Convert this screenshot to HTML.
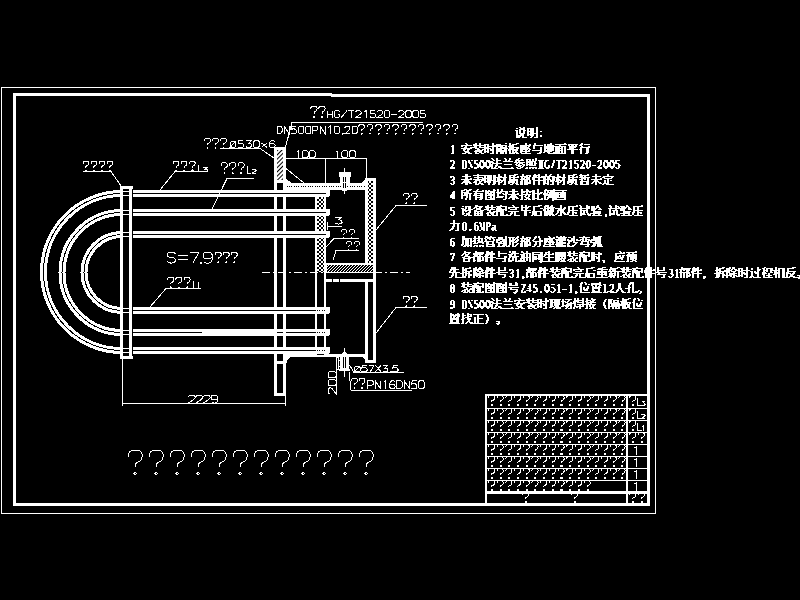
<!DOCTYPE html>
<html><head><meta charset="utf-8"><style>
html,body{margin:0;padding:0;background:#000;width:800px;height:600px;overflow:hidden}
svg{display:block}
.st path{fill:none;stroke:#fff;stroke-width:1px;vector-effect:non-scaling-stroke;shape-rendering:crispEdges}
text{font-family:"Liberation Sans",sans-serif;fill:#fff}
</style></head><body>
<svg width="800" height="600" viewBox="0 0 800 600" shape-rendering="crispEdges">
<rect width="800" height="600" fill="#000"/>
<defs>
<pattern id="hatch" width="3" height="3" patternUnits="userSpaceOnUse" patternTransform="rotate(45)">
<rect width="3" height="3" fill="#000"/><rect width="1.5" height="3" fill="#fff"/></pattern>
<pattern id="hatch2" width="4" height="4" patternUnits="userSpaceOnUse">
<rect width="4" height="4" fill="#000"/><rect x="0" y="0" width="1" height="1" fill="#fff"/><rect x="1" y="1" width="2" height="2" fill="#fff"/><rect x="3" y="0" width="1" height="1" fill="#fff"/><rect x="0" y="3" width="1" height="1" fill="#fff"/><rect x="3" y="3" width="1" height="1" fill="#fff"/></pattern>
<pattern id="hatchx" width="4" height="4" patternUnits="userSpaceOnUse">
<rect width="4" height="4" fill="#000"/><rect x="0" y="0" width="1" height="1" fill="#fff"/><rect x="1" y="1" width="1" height="1" fill="#fff"/><rect x="2" y="2" width="1" height="1" fill="#fff"/><rect x="3" y="3" width="1" height="1" fill="#fff"/><rect x="3" y="0" width="1" height="1" fill="#fff"/><rect x="0" y="3" width="1" height="1" fill="#fff"/><rect x="1" y="2" width="1" height="1" fill="#fff"/><rect x="2" y="1" width="1" height="1" fill="#fff"/></pattern>
<pattern id="hatch3" width="3" height="3" patternUnits="userSpaceOnUse">
<rect width="3" height="3" fill="#000"/><rect x="2" y="0" width="1" height="1" fill="#fff"/><rect x="1" y="1" width="1" height="1" fill="#fff"/><rect x="0" y="2" width="1" height="1" fill="#fff"/></pattern>
<path id="qm" d="M0.5,6.7 L0.5,4 L1.5,2.1 L2.5,1.3 L4.2,0.5 L10.9,0.5 L12.7,1.6 L14,4 L14,7.2 L13,9.9 L11.4,11.5 L8.7,12.5 L7.4,14.1 L7.4,16.5 M7.4,22.3 L8.6,23.5 L7.4,24.7 L6.2,23.5 Z" fill="none" stroke="#fff" stroke-width="1" vector-effect="non-scaling-stroke"/>
<g id="qt"><path d="M0.5,6.7 L0.5,4 L1.5,2.1 L2.5,1.3 L4.2,0.5 L10.9,0.5 L12.7,1.6 L14,4 L14,7.2 L13,9.9 L11.4,11.5 L8.7,12.5 L7.4,14.1 L7.4,16.5" fill="none" stroke="#fff" stroke-width="1" vector-effect="non-scaling-stroke"/><rect x="6" y="21.5" width="4.5" height="4.8" fill="#fff"/></g>
</defs>
<rect x="1.5" y="87.5" width="654" height="426" fill="none" stroke="#fff" stroke-width="1"/>
<rect x="13" y="93" width="3" height="413" fill="#ffffff"/>
<rect x="13" y="93" width="319" height="3" fill="#ffffff"/>
<rect x="331" y="94" width="319" height="3" fill="#ffffff"/>
<rect x="647" y="94" width="3" height="412" fill="#ffffff"/>
<rect x="13" y="503" width="637" height="3" fill="#ffffff"/>
<path d="M329,191.5 H122 A80.5,80.5 0 0 0 122,352.5 H329" stroke="#ffffff" stroke-width="3" fill="none" />
<path d="M329,195.5 H122 A76.5,76.5 0 0 0 122,348.5 H329" stroke="#ffffff" stroke-width="3" fill="none" />
<path d="M329,210.5 H122 A62.0,62.0 0 0 0 122,334.5 H329" stroke="#ffffff" stroke-width="3" fill="none" />
<path d="M329,214.5 H122 A58.0,58.0 0 0 0 122,330.5 H329" stroke="#ffffff" stroke-width="3" fill="none" />
<path d="M329,232.5 H122 A40.0,40.0 0 0 0 122,312.5 H329" stroke="#ffffff" stroke-width="3" fill="none" />
<path d="M329,236.5 H122 A36.0,36.0 0 0 0 122,308.5 H329" stroke="#ffffff" stroke-width="3" fill="none" />
<rect x="202" y="329" width="72" height="7" fill="#ffffff"/>
<rect x="120" y="186" width="13" height="173" fill="#000"/>
<rect x="120" y="186" width="3" height="173" fill="#ffffff"/>
<rect x="129" y="186" width="3" height="173" fill="#ffffff"/>
<rect x="120" y="186" width="13" height="3" fill="#ffffff"/>
<rect x="120" y="356" width="13" height="3" fill="#ffffff"/>
<rect x="123" y="191.0" width="6" height="1" fill="#ffffff"/>
<rect x="123" y="195.0" width="6" height="1" fill="#ffffff"/>
<rect x="123" y="348.0" width="6" height="1" fill="#ffffff"/>
<rect x="123" y="352.0" width="6" height="1" fill="#ffffff"/>
<rect x="123" y="210.0" width="6" height="1" fill="#ffffff"/>
<rect x="123" y="214.0" width="6" height="1" fill="#ffffff"/>
<rect x="123" y="330.0" width="6" height="1" fill="#ffffff"/>
<rect x="123" y="334.0" width="6" height="1" fill="#ffffff"/>
<rect x="123" y="232.0" width="6" height="1" fill="#ffffff"/>
<rect x="123" y="236.0" width="6" height="1" fill="#ffffff"/>
<rect x="123" y="308.0" width="6" height="1" fill="#ffffff"/>
<rect x="123" y="312.0" width="6" height="1" fill="#ffffff"/>
<rect x="274" y="147" width="12" height="249" fill="#000"/>
<rect x="274" y="147" width="3" height="249" fill="#ffffff"/>
<rect x="283" y="147" width="3" height="249" fill="#ffffff"/>
<rect x="274" y="147" width="12" height="3" fill="#ffffff"/>
<rect x="274" y="393" width="12" height="3" fill="#ffffff"/>
<rect x="277" y="150" width="6" height="30" fill="url(#hatch)"/>
<rect x="274" y="180" width="12" height="3" fill="#ffffff"/>
<rect x="277" y="190.0" width="6" height="7" fill="#ffffff"/>
<rect x="277" y="193.0" width="6" height="1" fill="#000"/>
<rect x="277" y="347.0" width="6" height="7" fill="#ffffff"/>
<rect x="277" y="350.0" width="6" height="1" fill="#000"/>
<rect x="277" y="209.0" width="6" height="7" fill="#ffffff"/>
<rect x="277" y="212.0" width="6" height="1" fill="#000"/>
<rect x="277" y="329.0" width="6" height="7" fill="#ffffff"/>
<rect x="277" y="332.0" width="6" height="1" fill="#000"/>
<rect x="277" y="231.0" width="6" height="7" fill="#ffffff"/>
<rect x="277" y="234.0" width="6" height="1" fill="#000"/>
<rect x="277" y="307.0" width="6" height="7" fill="#ffffff"/>
<rect x="277" y="310.0" width="6" height="1" fill="#000"/>
<rect x="274" y="361" width="12" height="3" fill="#ffffff"/>
<rect x="286" y="183" width="80" height="7" fill="#ffffff"/>
<line x1="287" y1="186.5" x2="365" y2="186.5" stroke="#000" stroke-width="1" stroke-dasharray="1,1,1,1,1,2"/>
<path d="M286,179 L292,183 L286,183 Z" stroke="#ffffff" stroke-width="0" fill="#ffffff" />
<rect x="286" y="354" width="80" height="3" fill="#ffffff"/>
<path d="M286,356 L292,356 Q287.5,358 286,364 Z" stroke="#ffffff" stroke-width="0" fill="#ffffff" />
<rect x="315" y="190" width="11" height="165" fill="#000"/>
<rect x="315" y="190" width="2" height="165" fill="#ffffff"/>
<rect x="324" y="190" width="2" height="165" fill="#ffffff"/>
<rect x="317" y="190" width="7" height="82" fill="url(#hatchx)"/>
<rect x="286" y="190.0" width="43" height="7" fill="#ffffff"/>
<rect x="286" y="193.0" width="29" height="1" fill="#000"/>
<rect x="326" y="190.0" width="4" height="7" rx="2" fill="#fff"/>
<rect x="286" y="347.0" width="43" height="7" fill="#ffffff"/>
<rect x="286" y="350.0" width="29" height="1" fill="#000"/>
<rect x="326" y="347.0" width="4" height="7" rx="2" fill="#fff"/>
<rect x="286" y="209.0" width="43" height="7" fill="#ffffff"/>
<rect x="286" y="212.0" width="29" height="1" fill="#000"/>
<rect x="326" y="209.0" width="4" height="7" rx="2" fill="#fff"/>
<rect x="286" y="329.0" width="43" height="7" fill="#ffffff"/>
<rect x="286" y="332.0" width="29" height="1" fill="#000"/>
<rect x="326" y="329.0" width="4" height="7" rx="2" fill="#fff"/>
<rect x="286" y="231.0" width="43" height="7" fill="#ffffff"/>
<rect x="286" y="234.0" width="29" height="1" fill="#000"/>
<rect x="326" y="231.0" width="4" height="7" rx="2" fill="#fff"/>
<rect x="286" y="307.0" width="43" height="7" fill="#ffffff"/>
<rect x="286" y="310.0" width="29" height="1" fill="#000"/>
<rect x="326" y="307.0" width="4" height="7" rx="2" fill="#fff"/>
<rect x="315" y="190" width="2" height="165" fill="#ffffff"/>
<rect x="324" y="190" width="2" height="165" fill="#ffffff"/>
<rect x="133" y="193" width="193" height="1" fill="#000"/>
<rect x="133" y="212" width="193" height="1" fill="#000"/>
<rect x="133" y="234" width="193" height="1" fill="#000"/>
<rect x="133" y="310" width="153" height="1" fill="#000"/>
<line x1="287" y1="310.5" x2="326" y2="310.5" stroke="#000" stroke-width="1" stroke-dasharray="1,1,1,1,1,2"/>
<rect x="133" y="350" width="153" height="1" fill="#000"/>
<line x1="287" y1="350.5" x2="326" y2="350.5" stroke="#000" stroke-width="1" stroke-dasharray="1,1,1,1,1,2"/>
<rect x="133" y="332" width="69" height="1" fill="#000"/>
<line x1="287" y1="332.5" x2="326" y2="332.5" stroke="#000" stroke-width="1" stroke-dasharray="1,1,1,1,1,2"/>
<rect x="365" y="178" width="11" height="95" fill="#ffffff"/>
<rect x="368" y="181" width="5" height="82" fill="url(#hatch2)"/>
<path d="M362,183 L366,178 L366,183 Z" stroke="#ffffff" stroke-width="0" fill="#ffffff" />
<rect x="326" y="263" width="50" height="10" fill="#ffffff"/>
<rect x="327" y="265" width="46" height="7" fill="url(#hatch3)"/>
<rect x="326" y="279" width="50" height="3" fill="#ffffff"/>
<rect x="332" y="279" width="1" height="3" fill="#000"/>
<rect x="339" y="279" width="1" height="3" fill="#000"/>
<rect x="365" y="281" width="3" height="82" fill="#ffffff"/>
<rect x="373" y="273" width="3" height="90" fill="#ffffff"/>
<rect x="365" y="360" width="11" height="3" fill="#ffffff"/>
<path d="M362,357 L366,361 L366,357 Z" stroke="#ffffff" stroke-width="0" fill="#ffffff" />
<rect x="339" y="172" width="12" height="5" rx="1.5" fill="#fff"/>
<rect x="340" y="176" width="10" height="8" fill="#ffffff"/>
<rect x="343" y="177" width="1" height="11" fill="#000"/>
<rect x="345" y="177" width="1" height="11" fill="#000"/>
<rect x="344" y="168" width="1" height="26" fill="#ffffff"/>
<rect x="343" y="182" width="3" height="1" fill="#ffffff"/>
<rect x="342" y="189" width="5" height="2" fill="#ffffff"/>
<path d="M340.5,355 L344.5,350.5 L348.5,355 Z" stroke="#ffffff" stroke-width="0" fill="#ffffff" />
<rect x="340" y="356" width="9" height="15" fill="#ffffff"/>
<rect x="339" y="369" width="11" height="2" fill="#ffffff"/>
<rect x="343" y="357" width="1" height="11" fill="#000"/>
<rect x="345" y="357" width="1" height="11" fill="#000"/>
<rect x="344" y="348" width="1" height="29" fill="#ffffff"/>
<line x1="286" y1="168.5" x2="304" y2="183" stroke="#ffffff" stroke-width="1"/>
<line x1="262" y1="272.5" x2="410" y2="272.5" stroke="#fff" stroke-width="1" stroke-dasharray="8,3,2,3"/>
<line x1="286" y1="158.5" x2="367" y2="158.5" stroke="#ffffff" stroke-width="1"/>
<line x1="325.5" y1="158" x2="325.5" y2="183" stroke="#ffffff" stroke-width="1"/>
<line x1="366.5" y1="158" x2="366.5" y2="178" stroke="#ffffff" stroke-width="1"/>
<line x1="122" y1="403.5" x2="285" y2="403.5" stroke="#ffffff" stroke-width="1"/>
<line x1="122.5" y1="358" x2="122.5" y2="406" stroke="#ffffff" stroke-width="1"/>
<line x1="285.5" y1="396" x2="285.5" y2="406" stroke="#ffffff" stroke-width="1"/>
<line x1="336.5" y1="357" x2="336.5" y2="395" stroke="#ffffff" stroke-width="1"/>
<rect x="336" y="357" width="3" height="1" fill="#ffffff"/>
<rect x="338" y="357" width="1" height="13" fill="#ffffff"/>
<rect x="336" y="369" width="4" height="1" fill="#ffffff"/>
<rect x="339" y="360" width="1" height="1" fill="#ffffff"/>
<rect x="339" y="366" width="1" height="1" fill="#ffffff"/>
<use href="#qm" transform="translate(310.6,106) scale(0.46)"/>
<use href="#qm" transform="translate(318.6,106) scale(0.46)"/>
<g class="st"><path d="M327.00,110.60 L327.00,117.50 M332.60,110.60 L332.60,117.50 M327.00,114.05 L332.60,114.05 M339.75,111.98 L339.01,111.06 L337.70,110.60 L336.21,110.60 L334.90,111.14 L334.15,112.44 L334.15,115.66 L334.90,116.96 L336.21,117.50 L337.70,117.50 L339.01,116.96 L339.75,115.81 L339.75,114.59 L337.51,114.59 M346.91,110.60 L341.31,117.50 M348.46,110.60 L354.06,110.60 M351.26,110.60 L351.26,117.50 M355.62,112.13 L356.36,111.06 L357.67,110.60 L359.16,110.60 L360.47,111.06 L361.22,112.13 L361.22,113.05 L360.47,114.13 L355.62,117.50 L361.22,117.50 M364.17,111.98 L366.04,110.60 L366.04,117.50 M375.15,110.60 L370.67,110.60 L370.20,113.67 L371.42,113.21 L373.47,113.21 L374.96,113.82 L375.52,115.05 L375.52,116.12 L374.78,117.19 L373.47,117.50 L371.79,117.50 L370.48,117.19 L369.92,116.58 M377.08,112.13 L377.82,111.06 L379.13,110.60 L380.62,110.60 L381.93,111.06 L382.68,112.13 L382.68,113.05 L381.93,114.13 L377.08,117.50 L382.68,117.50 M385.35,110.60 L388.71,110.60 L389.83,111.75 L389.83,116.35 L388.71,117.50 L385.35,117.50 L384.23,116.35 L384.23,111.75 Z M391.01,114.43 L397.36,114.43 M398.54,112.13 L399.29,111.06 L400.59,110.60 L402.09,110.60 L403.39,111.06 L404.14,112.13 L404.14,113.05 L403.39,114.13 L398.54,117.50 L404.14,117.50 M406.81,110.60 L410.17,110.60 L411.29,111.75 L411.29,116.35 L410.17,117.50 L406.81,117.50 L405.69,116.35 L405.69,111.75 Z M413.97,110.60 L417.33,110.60 L418.45,111.75 L418.45,116.35 L417.33,117.50 L413.97,117.50 L412.85,116.35 L412.85,111.75 Z M425.23,110.60 L420.75,110.60 L420.28,113.67 L421.49,113.21 L423.55,113.21 L425.04,113.82 L425.60,115.05 L425.60,116.12 L424.85,117.19 L423.55,117.50 L421.87,117.50 L420.56,117.19 L420.00,116.58" fill="none" stroke="#fff" stroke-width="1"/></g>
<line x1="292" y1="122.5" x2="422.5" y2="122.5" stroke="#ffffff" stroke-width="1"/>
<line x1="292" y1="122.5" x2="285.5" y2="147" stroke="#ffffff" stroke-width="1"/>
<g class="st"><path d="M277.00,126.00 L277.00,133.80 L280.00,133.80 L281.50,132.85 L282.00,131.55 L282.00,128.25 L281.50,126.95 L280.00,126.00 Z M284.18,133.80 L284.18,126.00 L289.18,133.80 L289.18,126.00 M296.02,126.00 L292.02,126.00 L291.60,129.47 L292.69,128.95 L294.52,128.95 L295.85,129.64 L296.35,131.03 L296.35,132.24 L295.69,133.45 L294.52,133.80 L293.02,133.80 L291.85,133.45 L291.35,132.76 M299.53,126.00 L302.53,126.00 L303.53,127.30 L303.53,132.50 L302.53,133.80 L299.53,133.80 L298.53,132.50 L298.53,127.30 Z M306.71,126.00 L309.71,126.00 L310.71,127.30 L310.71,132.50 L309.71,133.80 L306.71,133.80 L305.71,132.50 L305.71,127.30 Z M312.89,133.80 L312.89,126.00 L316.55,126.00 L317.55,126.61 L317.89,127.56 L317.89,128.95 L317.55,129.81 L316.55,130.33 L312.89,130.33 M320.06,133.80 L320.06,126.00 L325.06,133.80 L325.06,126.00 M328.49,127.56 L330.16,126.00 L330.16,133.80 M335.42,126.00 L338.42,126.00 L339.42,127.30 L339.42,132.50 L338.42,133.80 L335.42,133.80 L334.42,132.50 L334.42,127.30 Z M342.59,133.19 L343.09,133.63 L342.59,135.10 M344.82,127.73 L345.49,126.52 L346.66,126.00 L347.99,126.00 L349.16,126.52 L349.82,127.73 L349.82,128.77 L349.16,129.99 L344.82,133.80 L349.82,133.80 M353.00,126.00 L356.00,126.00 L357.00,127.30 L357.00,132.50 L356.00,133.80 L353.00,133.80 L352.00,132.50 L352.00,127.30 Z" fill="none" stroke="#fff" stroke-width="1"/></g>
<use href="#qm" transform="translate(358.6,124.3) scale(0.4)"/>
<use href="#qm" transform="translate(367.1,124.3) scale(0.4)"/>
<use href="#qm" transform="translate(375.6,124.3) scale(0.4)"/>
<use href="#qm" transform="translate(384.1,124.3) scale(0.4)"/>
<use href="#qm" transform="translate(392.6,124.3) scale(0.4)"/>
<use href="#qm" transform="translate(401.1,124.3) scale(0.4)"/>
<use href="#qm" transform="translate(409.6,124.3) scale(0.4)"/>
<use href="#qm" transform="translate(418.1,124.3) scale(0.4)"/>
<use href="#qm" transform="translate(426.6,124.3) scale(0.4)"/>
<use href="#qm" transform="translate(435.1,124.3) scale(0.4)"/>
<use href="#qm" transform="translate(443.6,124.3) scale(0.4)"/>
<use href="#qm" transform="translate(452.1,124.3) scale(0.4)"/>
<use href="#qm" transform="translate(204.4,138) scale(0.43)"/>
<use href="#qm" transform="translate(212.4,138) scale(0.43)"/>
<use href="#qm" transform="translate(220.4,138) scale(0.43)"/>
<g class="st"><path d="M231.12,141.75 L234.48,141.75 L235.60,142.90 L235.60,146.35 L234.48,147.50 L231.12,147.50 L230.00,146.35 L230.00,142.90 Z M229.72,147.88 L235.88,140.98 M243.11,140.60 L238.63,140.60 L238.16,143.67 L239.37,143.21 L241.43,143.21 L242.92,143.82 L243.48,145.05 L243.48,146.12 L242.73,147.19 L241.43,147.50 L239.75,147.50 L238.44,147.19 L237.88,146.58 M246.04,140.60 L251.36,140.60 L248.37,143.51 L249.68,143.51 L250.89,144.05 L251.36,145.20 L251.36,146.20 L250.61,147.19 L249.31,147.50 L247.81,147.50 L246.51,147.19 L245.76,146.43 M254.76,140.60 L258.12,140.60 L259.24,141.75 L259.24,146.35 L258.12,147.50 L254.76,147.50 L253.64,146.35 L253.64,141.75 Z M261.52,142.90 L267.12,147.50 M267.12,142.90 L261.52,147.50 M274.63,141.37 L273.69,140.60 L271.64,140.60 L270.15,141.52 L269.40,143.28 L269.40,145.81 L270.15,147.04 L271.45,147.50 L272.95,147.50 L274.25,147.04 L275.00,145.97 L275.00,145.05 L274.25,143.97 L272.95,143.51 L271.45,143.51 L270.15,143.97 L269.40,145.05" fill="none" stroke="#fff" stroke-width="1"/></g>
<line x1="220" y1="148.5" x2="260" y2="148.5" stroke="#ffffff" stroke-width="1"/>
<line x1="260" y1="148.5" x2="274" y2="158" stroke="#ffffff" stroke-width="1"/>
<g class="st"><path d="M296.50,152.22 L298.50,150.90 L298.50,157.50 M303.20,150.90 L306.80,150.90 L308.00,152.00 L308.00,156.40 L306.80,157.50 L303.20,157.50 L302.00,156.40 L302.00,152.00 Z M310.20,150.90 L313.80,150.90 L315.00,152.00 L315.00,156.40 L313.80,157.50 L310.20,157.50 L309.00,156.40 L309.00,152.00 Z" fill="none" stroke="#fff" stroke-width="1"/></g>
<g class="st"><path d="M335.90,152.22 L337.90,150.90 L337.90,157.50 M343.10,150.90 L346.70,150.90 L347.90,152.00 L347.90,156.40 L346.70,157.50 L343.10,157.50 L341.90,156.40 L341.90,152.00 Z M350.60,150.90 L354.20,150.90 L355.40,152.00 L355.40,156.40 L354.20,157.50 L350.60,157.50 L349.40,156.40 L349.40,152.00 Z" fill="none" stroke="#fff" stroke-width="1"/></g>
<use href="#qm" transform="translate(83,161) scale(0.4)"/>
<use href="#qm" transform="translate(91,161) scale(0.4)"/>
<use href="#qm" transform="translate(99,161) scale(0.4)"/>
<use href="#qm" transform="translate(107,161) scale(0.4)"/>
<line x1="83" y1="171.5" x2="111" y2="171.5" stroke="#ffffff" stroke-width="1"/>
<line x1="111" y1="171.5" x2="121" y2="186" stroke="#ffffff" stroke-width="1"/>
<use href="#qm" transform="translate(173.0,161) scale(0.41)"/>
<use href="#qm" transform="translate(181.2,161) scale(0.41)"/>
<use href="#qm" transform="translate(189.4,161) scale(0.41)"/>
<g class="st"><path d="M198.00,165.00 L198.00,171.50 L202.12,171.50" fill="none" stroke="#fff" stroke-width="1"/></g>
<g class="st"><path d="M203.22,167.50 L207.50,167.50 L205.10,169.19 L206.15,169.19 L207.12,169.50 L207.50,170.17 L207.50,170.74 L206.90,171.32 L205.85,171.50 L204.65,171.50 L203.60,171.32 L203.00,170.88" fill="none" stroke="#fff" stroke-width="1"/></g>
<line x1="175" y1="171.5" x2="208" y2="171.5" stroke="#ffffff" stroke-width="1"/>
<line x1="175" y1="171.5" x2="160" y2="190" stroke="#ffffff" stroke-width="1"/>
<use href="#qm" transform="translate(221.0,162.5) scale(0.45)"/>
<use href="#qm" transform="translate(229.4,162.5) scale(0.45)"/>
<use href="#qm" transform="translate(237.8,162.5) scale(0.45)"/>
<g class="st"><path d="M247.50,165.60 L247.50,173.00 L250.71,173.00" fill="none" stroke="#fff" stroke-width="1"/></g>
<g class="st"><path d="M252.00,170.20 L252.53,169.64 L253.47,169.40 L254.53,169.40 L255.47,169.64 L256.00,170.20 L256.00,170.68 L255.47,171.24 L252.00,173.00 L256.00,173.00" fill="none" stroke="#fff" stroke-width="1"/></g>
<line x1="227" y1="178.5" x2="254" y2="178.5" stroke="#ffffff" stroke-width="1"/>
<line x1="227" y1="178.5" x2="212" y2="209" stroke="#ffffff" stroke-width="1"/>
<g class="st"><path d="M175.50,253.96 L174.08,252.49 L172.10,252.00 L170.40,252.00 L168.42,252.49 L167.00,253.96 L167.00,255.67 L168.42,256.89 L174.08,258.11 L175.50,259.33 L175.50,261.04 L174.08,262.51 L172.10,263.00 L170.40,263.00 L168.42,262.51 L167.00,261.04" fill="none" stroke="#fff" stroke-width="1"/></g>
<g class="st"><path d="M178.00,255.91 L188.00,255.91 M178.00,259.33 L188.00,259.33" fill="none" stroke="#fff" stroke-width="1"/></g>
<g class="st"><path d="M190.00,252.00 L199.00,252.00 L193.00,263.00" fill="none" stroke="#fff" stroke-width="1"/></g>
<g class="st"><path d="M200.83,262.27 L201.10,262.27 L201.10,263.00 L200.83,263.00 Z" fill="none" stroke="#fff" stroke-width="1"/></g>
<g class="st"><path d="M212.00,256.89 L210.80,258.36 L208.70,258.84 L206.30,258.84 L204.20,258.11 L203.00,256.64 L203.00,254.44 L204.20,252.73 L206.30,252.00 L208.70,252.00 L210.80,252.73 L212.00,254.44 L212.00,259.94 L210.80,262.14 L208.70,263.00 L206.30,263.00 L203.90,262.14" fill="none" stroke="#fff" stroke-width="1"/></g>
<use href="#qm" transform="translate(215,252) scale(0.44)"/>
<use href="#qm" transform="translate(223,252) scale(0.44)"/>
<use href="#qm" transform="translate(231,252) scale(0.44)"/>
<use href="#qm" transform="translate(167.5,277) scale(0.44)"/>
<use href="#qm" transform="translate(175.7,277) scale(0.44)"/>
<use href="#qm" transform="translate(183.9,277) scale(0.44)"/>
<g class="st"><path d="M193.00,281.00 L193.00,288.00 L197.58,288.00" fill="none" stroke="#fff" stroke-width="1"/></g>
<g class="st"><path d="M197.75,283.20 L198.75,282.00 L198.75,288.00" fill="none" stroke="#fff" stroke-width="1"/></g>
<line x1="166" y1="288.5" x2="201" y2="288.5" stroke="#ffffff" stroke-width="1"/>
<line x1="166" y1="288.5" x2="150" y2="307" stroke="#ffffff" stroke-width="1"/>
<g class="st"><path d="M335.35,217.00 L342.00,217.00 L338.27,219.96 L339.90,219.96 L341.42,220.50 L342.00,221.67 L342.00,222.68 L341.07,223.69 L339.43,224.00 L337.57,224.00 L335.93,223.69 L335.00,222.91" fill="none" stroke="#fff" stroke-width="1"/></g>
<line x1="327" y1="226.5" x2="342" y2="226.5" stroke="#ffffff" stroke-width="1"/>
<rect x="327" y="222" width="1" height="8" fill="#ffffff"/>
<use href="#qm" transform="translate(341,229) scale(0.38)"/>
<use href="#qm" transform="translate(349,229) scale(0.38)"/>
<line x1="334" y1="238.5" x2="359" y2="238.5" stroke="#ffffff" stroke-width="1"/>
<line x1="326" y1="247" x2="334" y2="238.5" stroke="#ffffff" stroke-width="1"/>
<use href="#qm" transform="translate(346,241) scale(0.38)"/>
<use href="#qm" transform="translate(354,241) scale(0.38)"/>
<line x1="336" y1="250.5" x2="359" y2="250.5" stroke="#ffffff" stroke-width="1"/>
<line x1="333" y1="260" x2="336" y2="250.5" stroke="#ffffff" stroke-width="1"/>
<use href="#qm" transform="translate(403,193.3) scale(0.43)"/>
<use href="#qm" transform="translate(411,193.3) scale(0.43)"/>
<line x1="396" y1="205.5" x2="427" y2="205.5" stroke="#ffffff" stroke-width="1"/>
<line x1="396" y1="205.5" x2="376" y2="230" stroke="#ffffff" stroke-width="1"/>
<use href="#qm" transform="translate(403,296) scale(0.44)"/>
<use href="#qm" transform="translate(411,296) scale(0.44)"/>
<line x1="396" y1="307.5" x2="427" y2="307.5" stroke="#ffffff" stroke-width="1"/>
<line x1="396" y1="307.5" x2="376" y2="333" stroke="#ffffff" stroke-width="1"/>
<g class="st"><path d="M355.70,366.37 L359.00,366.37 L360.10,367.43 L360.10,370.63 L359.00,371.70 L355.70,371.70 L354.60,370.63 L354.60,367.43 Z M354.33,372.06 L360.38,365.66 M366.69,365.30 L362.29,365.30 L361.83,368.14 L363.02,367.72 L365.04,367.72 L366.50,368.29 L367.05,369.42 L367.05,370.42 L366.32,371.42 L365.04,371.70 L363.39,371.70 L362.10,371.42 L361.55,370.85 M368.51,365.30 L374.01,365.30 L370.34,371.70 M375.46,365.30 L380.96,371.70 M380.96,365.30 L375.46,371.70 M382.69,365.30 L387.92,365.30 L384.98,368.00 L386.27,368.00 L387.46,368.50 L387.92,369.57 L387.92,370.49 L387.18,371.42 L385.90,371.70 L384.43,371.70 L383.15,371.42 L382.42,370.70 M390.29,371.27 L391.02,371.27 L391.02,371.70 L390.29,371.70 Z M397.63,365.30 L393.23,365.30 L392.77,368.14 L393.97,367.72 L395.98,367.72 L397.45,368.29 L398.00,369.42 L398.00,370.42 L397.27,371.42 L395.98,371.70 L394.33,371.70 L393.05,371.42 L392.50,370.85" fill="none" stroke="#fff" stroke-width="1"/></g>
<line x1="354" y1="372.5" x2="404" y2="372.5" stroke="#ffffff" stroke-width="1"/>
<line x1="349.8" y1="365.3" x2="354" y2="372.5" stroke="#ffffff" stroke-width="1"/>
<use href="#qm" transform="translate(351.4,378) scale(0.43)"/>
<use href="#qm" transform="translate(358.9,378) scale(0.43)"/>
<g class="st"><path d="M367.80,388.70 L367.80,380.70 L371.83,380.70 L372.93,381.32 L373.30,382.30 L373.30,383.72 L372.93,384.61 L371.83,385.14 L367.80,385.14 M375.07,388.70 L375.07,380.70 L380.57,388.70 L380.57,380.70 M383.72,382.30 L385.55,380.70 L385.55,388.70 M394.75,381.59 L393.83,380.70 L391.81,380.70 L390.35,381.77 L389.61,383.81 L389.61,386.74 L390.35,388.17 L391.63,388.70 L393.10,388.70 L394.38,388.17 L395.11,386.92 L395.11,385.86 L394.38,384.61 L393.10,384.08 L391.63,384.08 L390.35,384.61 L389.61,385.86 M396.89,380.70 L396.89,388.70 L400.19,388.70 L401.84,387.72 L402.39,386.39 L402.39,383.01 L401.84,381.68 L400.19,380.70 Z M404.16,388.70 L404.16,380.70 L409.66,388.70 L409.66,380.70 M416.56,380.70 L412.16,380.70 L411.70,384.26 L412.90,383.72 L414.91,383.72 L416.38,384.43 L416.93,385.86 L416.93,387.10 L416.20,388.34 L414.91,388.70 L413.26,388.70 L411.98,388.34 L411.43,387.63 M419.80,380.70 L423.10,380.70 L424.20,382.03 L424.20,387.37 L423.10,388.70 L419.80,388.70 L418.70,387.37 L418.70,382.03 Z" fill="none" stroke="#fff" stroke-width="1"/></g>
<line x1="351.4" y1="390.5" x2="412" y2="390.5" stroke="#ffffff" stroke-width="1"/>
<line x1="349.3" y1="372" x2="350.8" y2="390" stroke="#ffffff" stroke-width="1"/>
<g class="st" transform="translate(328,393.8) rotate(-90)"><path d="M0.00,1.78 L0.80,0.53 L2.20,0.00 L3.80,0.00 L5.20,0.53 L6.00,1.78 L6.00,2.84 L5.20,4.09 L0.00,8.00 L6.00,8.00 M9.20,0.00 L12.80,0.00 L14.00,1.33 L14.00,6.67 L12.80,8.00 L9.20,8.00 L8.00,6.67 L8.00,1.33 Z M17.20,0.00 L20.80,0.00 L22.00,1.33 L22.00,6.67 L20.80,8.00 L17.20,8.00 L16.00,6.67 L16.00,1.33 Z" fill="none" stroke="#fff" stroke-width="1"/></g>
<g class="st"><path d="M188.60,396.78 L189.47,395.53 L190.98,395.00 L192.72,395.00 L194.23,395.53 L195.10,396.78 L195.10,397.84 L194.23,399.09 L188.60,403.00 L195.10,403.00 M196.07,396.78 L196.93,395.53 L198.45,395.00 L200.18,395.00 L201.70,395.53 L202.57,396.78 L202.57,397.84 L201.70,399.09 L196.07,403.00 L202.57,403.00 M203.53,396.78 L204.40,395.53 L205.92,395.00 L207.65,395.00 L209.17,395.53 L210.03,396.78 L210.03,397.84 L209.17,399.09 L203.53,403.00 L210.03,403.00 M217.50,398.56 L216.63,399.62 L215.12,399.98 L213.38,399.98 L211.87,399.44 L211.00,398.38 L211.00,396.78 L211.87,395.53 L213.38,395.00 L215.12,395.00 L216.63,395.53 L217.50,396.78 L217.50,400.78 L216.63,402.38 L215.12,403.00 L213.38,403.00 L211.65,402.38" fill="none" stroke="#fff" stroke-width="1"/></g>
<use href="#qm" transform="translate(128,450) scale(1.0)"/>
<use href="#qm" transform="translate(149,450) scale(1.0)"/>
<use href="#qm" transform="translate(170,450) scale(1.0)"/>
<use href="#qm" transform="translate(191,450) scale(1.0)"/>
<use href="#qm" transform="translate(212,450) scale(1.0)"/>
<use href="#qm" transform="translate(233,450) scale(1.0)"/>
<use href="#qm" transform="translate(254,450) scale(1.0)"/>
<use href="#qm" transform="translate(275,450) scale(1.0)"/>
<use href="#qm" transform="translate(296,450) scale(1.0)"/>
<use href="#qm" transform="translate(317,450) scale(1.0)"/>
<use href="#qm" transform="translate(338,450) scale(1.0)"/>
<use href="#qm" transform="translate(359,450) scale(1.0)"/>
<path fill="#fff" shape-rendering="crispEdges" d="M519 127h2v1h-2zM523 127h2v1h-2zM536 127h2v1h-2zM516 128h2v1h-2zM520 128h5v1h-5zM527 128h7v1h-7zM536 128h2v1h-2zM519 129h6v1h-6zM527 129h2v1h-2zM530 129h4v1h-4zM536 129h2v1h-2zM515 130h3v1h-3zM519 130h2v1h-2zM523 130h3v1h-3zM527 130h2v1h-2zM530 130h4v1h-4zM536 130h2v1h-2zM516 131h2v1h-2zM519 131h2v1h-2zM523 131h2v1h-2zM527 131h7v1h-7zM536 131h2v1h-2zM540 131h2v1h-2zM516 132h2v1h-2zM519 132h2v1h-2zM523 132h2v1h-2zM527 132h2v1h-2zM530 132h4v1h-4zM536 132h2v1h-2zM516 133h2v1h-2zM519 133h6v1h-6zM527 133h2v1h-2zM530 133h8v1h-8zM516 134h2v1h-2zM520 134h4v1h-4zM527 134h7v1h-7zM536 134h2v1h-2zM516 135h8v1h-8zM527 135h2v1h-2zM530 135h4v1h-4zM536 135h2v1h-2zM540 135h2v1h-2zM516 136h5v1h-5zM522 136h2v1h-2zM531 136h2v1h-2zM536 136h2v1h-2zM540 136h2v1h-2zM516 137h4v1h-4zM522 137h5v1h-5zM530 137h2v1h-2zM534 137h4v1h-4zM465 143h2v1h-2zM475 143h2v1h-2zM479 143h2v1h-2zM492 143h2v1h-2zM505 143h2v1h-2zM509 143h2v1h-2zM516 143h3v1h-3zM525 143h2v1h-2zM534 143h2v1h-2zM550 143h2v1h-2zM564 143h2v1h-2zM581 143h2v1h-2zM466 144h2v1h-2zM473 144h4v1h-4zM479 144h2v1h-2zM484 144h5v1h-5zM492 144h2v1h-2zM496 144h5v1h-5zM509 144h2v1h-2zM512 144h5v1h-5zM525 144h2v1h-2zM529 144h2v1h-2zM534 144h2v1h-2zM544 144h2v1h-2zM547 144h5v1h-5zM555 144h12v1h-12zM568 144h10v1h-10zM580 144h3v1h-3zM584 144h6v1h-6zM452 145h2v1h-2zM461 145h11v1h-11zM473 145h13v1h-13zM487 145h2v1h-2zM492 145h15v1h-15zM509 145h5v1h-5zM520 145h11v1h-11zM533 145h10v1h-10zM544 145h2v1h-2zM547 145h7v1h-7zM559 145h2v1h-2zM568 145h2v1h-2zM571 145h3v1h-3zM575 145h2v1h-2zM579 145h3v1h-3zM451 146h3v1h-3zM461 146h2v1h-2zM465 146h2v1h-2zM474 146h3v1h-3zM479 146h2v1h-2zM484 146h2v1h-2zM487 146h16v1h-16zM505 146h2v1h-2zM508 146h6v1h-6zM520 146h7v1h-7zM528 146h2v1h-2zM533 146h2v1h-2zM544 146h22v1h-22zM569 146h8v1h-8zM581 146h2v1h-2zM588 146h2v1h-2zM452 147h2v1h-2zM464 147h3v1h-3zM470 147h7v1h-7zM479 147h10v1h-10zM492 147h2v1h-2zM496 147h2v1h-2zM500 147h7v1h-7zM509 147h10v1h-10zM520 147h9v1h-9zM533 147h2v1h-2zM540 147h2v1h-2zM544 147h10v1h-10zM555 147h5v1h-5zM561 147h2v1h-2zM564 147h2v1h-2zM569 147h7v1h-7zM580 147h10v1h-10zM452 148h2v1h-2zM461 148h11v1h-11zM475 148h4v1h-4zM484 148h7v1h-7zM492 148h2v1h-2zM496 148h12v1h-12zM509 148h5v1h-5zM516 148h3v1h-3zM520 148h10v1h-10zM533 148h2v1h-2zM540 148h2v1h-2zM544 148h10v1h-10zM555 148h8v1h-8zM564 148h2v1h-2zM569 148h5v1h-5zM580 148h2v1h-2zM586 148h3v1h-3zM452 149h2v1h-2zM463 149h3v1h-3zM467 149h3v1h-3zM477 149h3v1h-3zM482 149h4v1h-4zM487 149h2v1h-2zM490 149h4v1h-4zM496 149h6v1h-6zM504 149h3v1h-3zM508 149h10v1h-10zM520 149h8v1h-8zM529 149h2v1h-2zM540 149h2v1h-2zM544 149h2v1h-2zM547 149h7v1h-7zM555 149h5v1h-5zM561 149h2v1h-2zM564 149h2v1h-2zM567 149h11v1h-11zM579 149h3v1h-3zM586 149h3v1h-3zM452 150h2v1h-2zM463 150h2v1h-2zM467 150h2v1h-2zM475 150h8v1h-8zM484 150h2v1h-2zM487 150h2v1h-2zM490 150h4v1h-4zM496 150h11v1h-11zM508 150h3v1h-3zM512 150h6v1h-6zM520 150h3v1h-3zM525 150h2v1h-2zM528 150h2v1h-2zM532 150h10v1h-10zM544 150h10v1h-10zM555 150h8v1h-8zM564 150h2v1h-2zM571 150h3v1h-3zM580 150h2v1h-2zM586 150h3v1h-3zM452 151h2v1h-2zM464 151h5v1h-5zM474 151h8v1h-8zM484 151h5v1h-5zM492 151h2v1h-2zM496 151h11v1h-11zM509 151h2v1h-2zM512 151h2v1h-2zM515 151h2v1h-2zM520 151h10v1h-10zM540 151h2v1h-2zM544 151h8v1h-8zM555 151h5v1h-5zM561 151h2v1h-2zM564 151h2v1h-2zM571 151h3v1h-3zM580 151h2v1h-2zM586 151h3v1h-3zM452 152h2v1h-2zM465 152h5v1h-5zM475 152h2v1h-2zM479 152h3v1h-3zM484 152h2v1h-2zM487 152h2v1h-2zM492 152h2v1h-2zM496 152h2v1h-2zM500 152h4v1h-4zM505 152h2v1h-2zM509 152h2v1h-2zM512 152h6v1h-6zM520 152h2v1h-2zM525 152h2v1h-2zM539 152h3v1h-3zM543 152h2v1h-2zM547 152h3v1h-3zM553 152h7v1h-7zM561 152h2v1h-2zM564 152h2v1h-2zM571 152h3v1h-3zM580 152h2v1h-2zM586 152h3v1h-3zM451 153h3v1h-3zM462 153h4v1h-4zM468 153h4v1h-4zM475 153h4v1h-4zM481 153h3v1h-3zM490 153h4v1h-4zM496 153h2v1h-2zM500 153h4v1h-4zM505 153h2v1h-2zM509 153h6v1h-6zM516 153h3v1h-3zM521 153h10v1h-10zM537 153h4v1h-4zM548 153h18v1h-18zM571 153h3v1h-3zM580 153h2v1h-2zM585 153h3v1h-3zM491 158h2v1h-2zM496 158h2v1h-2zM504 158h2v1h-2zM509 158h2v1h-2zM518 158h2v1h-2zM535 158h2v1h-2zM492 159h2v1h-2zM496 159h2v1h-2zM505 159h2v1h-2zM509 159h2v1h-2zM516 159h3v1h-3zM521 159h2v1h-2zM526 159h5v1h-5zM532 159h2v1h-2zM535 159h2v1h-2zM450 160h4v1h-4zM462 160h4v1h-4zM468 160h2v1h-2zM471 160h2v1h-2zM474 160h4v1h-4zM480 160h4v1h-4zM486 160h4v1h-4zM493 160h2v1h-2zM496 160h5v1h-5zM505 160h2v1h-2zM508 160h2v1h-2zM515 160h9v1h-9zM526 160h2v1h-2zM529 160h2v1h-2zM532 160h2v1h-2zM535 160h2v1h-2zM538 160h6v1h-6zM545 160h4v1h-4zM553 160h2v1h-2zM556 160h10v1h-10zM570 160h2v1h-2zM574 160h5v1h-5zM580 160h4v1h-4zM587 160h3v1h-3zM598 160h4v1h-4zM604 160h4v1h-4zM610 160h4v1h-4zM615 160h5v1h-5zM450 161h2v1h-2zM453 161h2v1h-2zM462 161h2v1h-2zM465 161h2v1h-2zM468 161h2v1h-2zM474 161h2v1h-2zM480 161h4v1h-4zM486 161h7v1h-7zM496 161h2v1h-2zM503 161h10v1h-10zM515 161h2v1h-2zM518 161h2v1h-2zM526 161h10v1h-10zM539 161h4v1h-4zM545 161h2v1h-2zM553 161h2v1h-2zM558 161h2v1h-2zM562 161h2v1h-2zM565 161h2v1h-2zM569 161h3v1h-3zM574 161h2v1h-2zM580 161h2v1h-2zM583 161h2v1h-2zM586 161h5v1h-5zM597 161h2v1h-2zM600 161h2v1h-2zM604 161h4v1h-4zM610 161h4v1h-4zM615 161h2v1h-2zM453 162h2v1h-2zM462 162h2v1h-2zM465 162h2v1h-2zM468 162h3v1h-3zM474 162h2v1h-2zM479 162h2v1h-2zM482 162h5v1h-5zM488 162h6v1h-6zM496 162h2v1h-2zM514 162h11v1h-11zM526 162h7v1h-7zM534 162h2v1h-2zM539 162h4v1h-4zM544 162h2v1h-2zM553 162h2v1h-2zM558 162h2v1h-2zM565 162h2v1h-2zM570 162h2v1h-2zM574 162h2v1h-2zM583 162h2v1h-2zM586 162h2v1h-2zM589 162h2v1h-2zM600 162h2v1h-2zM603 162h2v1h-2zM606 162h5v1h-5zM612 162h5v1h-5zM453 163h2v1h-2zM462 163h2v1h-2zM465 163h2v1h-2zM469 163h2v1h-2zM474 163h4v1h-4zM479 163h2v1h-2zM483 163h4v1h-4zM489 163h2v1h-2zM492 163h10v1h-10zM516 163h2v1h-2zM519 163h4v1h-4zM526 163h2v1h-2zM529 163h4v1h-4zM534 163h3v1h-3zM539 163h4v1h-4zM544 163h2v1h-2zM552 163h2v1h-2zM558 163h2v1h-2zM565 163h2v1h-2zM570 163h2v1h-2zM574 163h4v1h-4zM583 163h5v1h-5zM589 163h2v1h-2zM600 163h2v1h-2zM603 163h2v1h-2zM607 163h4v1h-4zM613 163h6v1h-6zM452 164h2v1h-2zM462 164h2v1h-2zM465 164h2v1h-2zM470 164h2v1h-2zM476 164h5v1h-5zM483 164h4v1h-4zM489 164h4v1h-4zM496 164h2v1h-2zM504 164h8v1h-8zM515 164h2v1h-2zM518 164h2v1h-2zM522 164h3v1h-3zM526 164h7v1h-7zM534 164h2v1h-2zM539 164h4v1h-4zM544 164h2v1h-2zM552 164h2v1h-2zM558 164h2v1h-2zM565 164h2v1h-2zM570 164h2v1h-2zM577 164h2v1h-2zM582 164h2v1h-2zM585 164h3v1h-3zM589 164h2v1h-2zM600 164h2v1h-2zM603 164h2v1h-2zM607 164h4v1h-4zM613 164h2v1h-2zM618 164h2v1h-2zM452 165h2v1h-2zM462 165h2v1h-2zM465 165h2v1h-2zM470 165h2v1h-2zM477 165h4v1h-4zM483 165h4v1h-4zM489 165h4v1h-4zM495 165h3v1h-3zM516 165h6v1h-6zM523 165h2v1h-2zM526 165h2v1h-2zM529 165h7v1h-7zM539 165h4v1h-4zM544 165h2v1h-2zM548 165h2v1h-2zM552 165h2v1h-2zM558 165h2v1h-2zM564 165h2v1h-2zM570 165h2v1h-2zM577 165h2v1h-2zM582 165h2v1h-2zM586 165h2v1h-2zM589 165h2v1h-2zM592 165h4v1h-4zM599 165h2v1h-2zM603 165h2v1h-2zM607 165h4v1h-4zM613 165h2v1h-2zM618 165h3v1h-3zM451 166h2v1h-2zM462 166h2v1h-2zM465 166h2v1h-2zM470 166h3v1h-3zM477 166h16v1h-16zM495 166h2v1h-2zM498 166h3v1h-3zM518 166h3v1h-3zM522 166h2v1h-2zM539 166h4v1h-4zM544 166h2v1h-2zM548 166h2v1h-2zM551 166h2v1h-2zM558 166h2v1h-2zM563 166h2v1h-2zM570 166h2v1h-2zM577 166h2v1h-2zM581 166h2v1h-2zM586 166h2v1h-2zM589 166h2v1h-2zM598 166h2v1h-2zM603 166h12v1h-12zM618 166h2v1h-2zM450 167h5v1h-5zM462 167h2v1h-2zM465 167h2v1h-2zM471 167h2v1h-2zM474 167h5v1h-5zM480 167h4v1h-4zM486 167h4v1h-4zM491 167h2v1h-2zM494 167h2v1h-2zM498 167h4v1h-4zM511 167h2v1h-2zM516 167h2v1h-2zM520 167h3v1h-3zM526 167h2v1h-2zM529 167h8v1h-8zM539 167h4v1h-4zM545 167h5v1h-5zM551 167h2v1h-2zM558 167h2v1h-2zM562 167h5v1h-5zM570 167h2v1h-2zM574 167h2v1h-2zM577 167h2v1h-2zM580 167h5v1h-5zM586 167h4v1h-4zM597 167h5v1h-5zM604 167h4v1h-4zM610 167h4v1h-4zM615 167h2v1h-2zM618 167h2v1h-2zM450 168h5v1h-5zM462 168h4v1h-4zM468 168h2v1h-2zM474 168h3v1h-3zM481 168h2v1h-2zM487 168h2v1h-2zM491 168h7v1h-7zM500 168h14v1h-14zM517 168h4v1h-4zM525 168h3v1h-3zM529 168h2v1h-2zM532 168h2v1h-2zM535 168h2v1h-2zM538 168h6v1h-6zM546 168h3v1h-3zM557 168h3v1h-3zM562 168h5v1h-5zM569 168h3v1h-3zM575 168h3v1h-3zM580 168h5v1h-5zM587 168h2v1h-2zM598 168h4v1h-4zM605 168h2v1h-2zM611 168h2v1h-2zM616 168h3v1h-3zM465 174h3v1h-3zM477 174h2v1h-2zM498 174h2v1h-2zM504 174h2v1h-2zM514 174h4v1h-4zM522 174h2v1h-2zM534 174h2v1h-2zM538 174h2v1h-2zM545 174h2v1h-2zM550 174h2v1h-2zM557 174h2v1h-2zM563 174h2v1h-2zM573 174h4v1h-4zM580 174h2v1h-2zM587 174h2v1h-2zM595 174h2v1h-2zM607 174h2v1h-2zM465 175h3v1h-3zM473 175h19v1h-19zM493 175h3v1h-3zM498 175h2v1h-2zM504 175h2v1h-2zM509 175h7v1h-7zM522 175h2v1h-2zM526 175h5v1h-5zM533 175h7v1h-7zM545 175h2v1h-2zM549 175h2v1h-2zM557 175h2v1h-2zM563 175h2v1h-2zM568 175h7v1h-7zM579 175h10v1h-10zM595 175h2v1h-2zM607 175h2v1h-2zM450 176h4v1h-4zM462 176h9v1h-9zM477 176h2v1h-2zM484 176h2v1h-2zM487 176h5v1h-5zM493 176h3v1h-3zM498 176h4v1h-4zM504 176h2v1h-2zM509 176h2v1h-2zM513 176h2v1h-2zM517 176h2v1h-2zM520 176h8v1h-8zM529 176h2v1h-2zM533 176h4v1h-4zM538 176h2v1h-2zM541 176h14v1h-14zM557 176h4v1h-4zM563 176h2v1h-2zM568 176h2v1h-2zM572 176h2v1h-2zM576 176h2v1h-2zM580 176h3v1h-3zM584 176h2v1h-2zM592 176h9v1h-9zM603 176h11v1h-11zM450 177h2v1h-2zM453 177h2v1h-2zM465 177h3v1h-3zM474 177h9v1h-9zM484 177h2v1h-2zM487 177h5v1h-5zM493 177h14v1h-14zM509 177h10v1h-10zM521 177h2v1h-2zM524 177h6v1h-6zM532 177h14v1h-14zM547 177h3v1h-3zM552 177h14v1h-14zM568 177h10v1h-10zM579 177h11v1h-11zM595 177h2v1h-2zM602 177h3v1h-3zM611 177h2v1h-2zM453 178h2v1h-2zM465 178h3v1h-3zM470 178h2v1h-2zM477 178h2v1h-2zM482 178h10v1h-10zM493 178h3v1h-3zM497 178h3v1h-3zM503 178h3v1h-3zM509 178h2v1h-2zM513 178h2v1h-2zM521 178h4v1h-4zM526 178h4v1h-4zM532 178h3v1h-3zM538 178h2v1h-2zM543 178h3v1h-3zM547 178h3v1h-3zM552 178h3v1h-3zM556 178h3v1h-3zM562 178h3v1h-3zM568 178h2v1h-2zM572 178h2v1h-2zM581 178h5v1h-5zM587 178h2v1h-2zM595 178h2v1h-2zM600 178h2v1h-2zM604 178h8v1h-8zM452 179h3v1h-3zM461 179h11v1h-11zM473 179h13v1h-13zM487 179h5v1h-5zM493 179h3v1h-3zM497 179h4v1h-4zM503 179h3v1h-3zM509 179h9v1h-9zM520 179h10v1h-10zM532 179h3v1h-3zM538 179h2v1h-2zM543 179h8v1h-8zM552 179h3v1h-3zM556 179h4v1h-4zM562 179h3v1h-3zM568 179h9v1h-9zM579 179h4v1h-4zM584 179h2v1h-2zM587 179h2v1h-2zM591 179h11v1h-11zM607 179h2v1h-2zM451 180h3v1h-3zM464 180h5v1h-5zM475 180h5v1h-5zM481 180h5v1h-5zM487 180h9v1h-9zM497 180h9v1h-9zM509 180h9v1h-9zM521 180h2v1h-2zM524 180h4v1h-4zM529 180h2v1h-2zM533 180h13v1h-13zM547 180h2v1h-2zM550 180h5v1h-5zM556 180h9v1h-9zM568 180h9v1h-9zM581 180h2v1h-2zM587 180h2v1h-2zM594 180h4v1h-4zM604 180h2v1h-2zM607 180h2v1h-2zM610 180h2v1h-2zM453 181h2v1h-2zM463 181h7v1h-7zM474 181h3v1h-3zM479 181h3v1h-3zM484 181h7v1h-7zM493 181h7v1h-7zM501 181h2v1h-2zM504 181h2v1h-2zM508 181h7v1h-7zM516 181h2v1h-2zM520 181h3v1h-3zM524 181h4v1h-4zM529 181h2v1h-2zM533 181h2v1h-2zM538 181h2v1h-2zM543 181h3v1h-3zM547 181h2v1h-2zM550 181h4v1h-4zM555 181h4v1h-4zM560 181h2v1h-2zM563 181h2v1h-2zM567 181h7v1h-7zM575 181h2v1h-2zM580 181h9v1h-9zM593 181h6v1h-6zM604 181h2v1h-2zM607 181h2v1h-2zM453 182h2v1h-2zM462 182h9v1h-9zM473 182h4v1h-4zM479 182h2v1h-2zM484 182h2v1h-2zM487 182h4v1h-4zM493 182h3v1h-3zM498 182h4v1h-4zM504 182h2v1h-2zM508 182h7v1h-7zM516 182h2v1h-2zM520 182h3v1h-3zM524 182h7v1h-7zM533 182h2v1h-2zM538 182h2v1h-2zM543 182h3v1h-3zM547 182h2v1h-2zM552 182h2v1h-2zM557 182h4v1h-4zM563 182h2v1h-2zM567 182h7v1h-7zM575 182h2v1h-2zM580 182h3v1h-3zM586 182h3v1h-3zM592 182h2v1h-2zM595 182h2v1h-2zM598 182h3v1h-3zM604 182h2v1h-2zM607 182h2v1h-2zM450 183h2v1h-2zM453 183h2v1h-2zM461 183h2v1h-2zM465 183h3v1h-3zM469 183h3v1h-3zM475 183h2v1h-2zM478 183h5v1h-5zM488 183h2v1h-2zM493 183h3v1h-3zM498 183h2v1h-2zM504 183h2v1h-2zM508 183h2v1h-2zM512 183h2v1h-2zM515 183h3v1h-3zM520 183h3v1h-3zM524 183h7v1h-7zM533 183h2v1h-2zM538 183h2v1h-2zM543 183h6v1h-6zM552 183h2v1h-2zM557 183h2v1h-2zM563 183h2v1h-2zM567 183h2v1h-2zM571 183h2v1h-2zM574 183h3v1h-3zM580 183h3v1h-3zM586 183h3v1h-3zM591 183h2v1h-2zM595 183h2v1h-2zM599 183h3v1h-3zM603 183h6v1h-6zM451 184h3v1h-3zM465 184h3v1h-3zM475 184h4v1h-4zM481 184h3v1h-3zM488 184h2v1h-2zM492 184h3v1h-3zM498 184h2v1h-2zM503 184h3v1h-3zM510 184h3v1h-3zM516 184h3v1h-3zM520 184h3v1h-3zM524 184h4v1h-4zM533 184h2v1h-2zM538 184h2v1h-2zM543 184h2v1h-2zM547 184h2v1h-2zM550 184h4v1h-4zM557 184h2v1h-2zM562 184h3v1h-3zM569 184h3v1h-3zM575 184h3v1h-3zM580 184h9v1h-9zM595 184h2v1h-2zM602 184h2v1h-2zM606 184h8v1h-8zM464 189h3v1h-3zM469 189h3v1h-3zM477 189h2v1h-2zM493 189h2v1h-2zM497 189h2v1h-2zM501 189h2v1h-2zM512 189h3v1h-3zM521 189h2v1h-2zM526 189h2v1h-2zM537 189h2v1h-2zM545 189h2v1h-2zM553 189h2v1h-2zM461 190h4v1h-4zM466 190h5v1h-5zM476 190h2v1h-2zM482 190h2v1h-2zM485 190h2v1h-2zM488 190h2v1h-2zM493 190h3v1h-3zM497 190h2v1h-2zM501 190h2v1h-2zM512 190h3v1h-3zM521 190h2v1h-2zM526 190h3v1h-3zM532 190h3v1h-3zM537 190h2v1h-2zM544 190h23v1h-23zM453 191h2v1h-2zM461 191h2v1h-2zM466 191h3v1h-3zM473 191h11v1h-11zM485 191h10v1h-10zM497 191h2v1h-2zM500 191h8v1h-8zM509 191h9v1h-9zM521 191h14v1h-14zM537 191h2v1h-2zM544 191h2v1h-2zM547 191h2v1h-2zM550 191h5v1h-5zM562 191h2v1h-2zM452 192h3v1h-3zM461 192h8v1h-8zM475 192h2v1h-2zM485 192h4v1h-4zM490 192h5v1h-5zM496 192h6v1h-6zM505 192h3v1h-3zM512 192h3v1h-3zM521 192h4v1h-4zM526 192h2v1h-2zM529 192h2v1h-2zM532 192h3v1h-3zM537 192h2v1h-2zM540 192h3v1h-3zM544 192h2v1h-2zM547 192h19v1h-19zM452 193h3v1h-3zM461 193h2v1h-2zM464 193h8v1h-8zM474 193h9v1h-9zM485 193h7v1h-7zM493 193h2v1h-2zM497 193h4v1h-4zM502 193h2v1h-2zM505 193h3v1h-3zM512 193h3v1h-3zM517 193h2v1h-2zM521 193h2v1h-2zM526 193h2v1h-2zM532 193h10v1h-10zM543 193h5v1h-5zM549 193h10v1h-10zM560 193h6v1h-6zM451 194h4v1h-4zM461 194h2v1h-2zM464 194h4v1h-4zM469 194h2v1h-2zM474 194h3v1h-3zM480 194h3v1h-3zM485 194h2v1h-2zM488 194h7v1h-7zM497 194h2v1h-2zM503 194h4v1h-4zM508 194h11v1h-11zM521 194h10v1h-10zM532 194h3v1h-3zM537 194h3v1h-3zM543 194h23v1h-23zM450 195h5v1h-5zM461 195h7v1h-7zM469 195h2v1h-2zM473 195h10v1h-10zM485 195h10v1h-10zM497 195h2v1h-2zM505 195h2v1h-2zM511 195h5v1h-5zM519 195h4v1h-4zM525 195h2v1h-2zM528 195h2v1h-2zM532 195h3v1h-3zM537 195h2v1h-2zM544 195h15v1h-15zM560 195h6v1h-6zM450 196h5v1h-5zM461 196h2v1h-2zM466 196h2v1h-2zM469 196h2v1h-2zM475 196h2v1h-2zM480 196h3v1h-3zM485 196h2v1h-2zM490 196h2v1h-2zM493 196h2v1h-2zM497 196h7v1h-7zM505 196h2v1h-2zM510 196h7v1h-7zM521 196h2v1h-2zM524 196h2v1h-2zM528 196h2v1h-2zM532 196h3v1h-3zM537 196h2v1h-2zM544 196h2v1h-2zM548 196h11v1h-11zM560 196h6v1h-6zM450 197h5v1h-5zM461 197h2v1h-2zM466 197h2v1h-2zM469 197h2v1h-2zM475 197h8v1h-8zM485 197h2v1h-2zM488 197h4v1h-4zM493 197h2v1h-2zM496 197h7v1h-7zM505 197h2v1h-2zM509 197h9v1h-9zM521 197h2v1h-2zM525 197h4v1h-4zM532 197h3v1h-3zM537 197h2v1h-2zM544 197h2v1h-2zM547 197h19v1h-19zM452 198h3v1h-3zM461 198h2v1h-2zM465 198h2v1h-2zM469 198h2v1h-2zM475 198h2v1h-2zM480 198h3v1h-3zM485 198h2v1h-2zM490 198h5v1h-5zM505 198h2v1h-2zM508 198h2v1h-2zM512 198h3v1h-3zM516 198h3v1h-3zM521 198h2v1h-2zM526 198h4v1h-4zM532 198h7v1h-7zM541 198h2v1h-2zM544 198h2v1h-2zM547 198h2v1h-2zM552 198h5v1h-5zM564 198h2v1h-2zM465 199h2v1h-2zM469 199h2v1h-2zM475 199h2v1h-2zM479 199h3v1h-3zM485 199h10v1h-10zM503 199h3v1h-3zM512 199h3v1h-3zM520 199h3v1h-3zM524 199h3v1h-3zM528 199h3v1h-3zM532 199h3v1h-3zM537 199h6v1h-6zM544 199h4v1h-4zM552 199h14v1h-14zM552 200h2v1h-2zM475 205h3v1h-3zM487 205h2v1h-2zM491 205h2v1h-2zM500 205h2v1h-2zM512 205h2v1h-2zM521 205h2v1h-2zM525 205h2v1h-2zM538 205h4v1h-4zM545 205h4v1h-4zM551 205h2v1h-2zM560 205h2v1h-2zM576 205h2v1h-2zM579 205h2v1h-2zM586 205h2v1h-2zM597 205h2v1h-2zM609 205h2v1h-2zM615 205h2v1h-2zM626 205h2v1h-2zM641 205h2v1h-2zM462 206h2v1h-2zM465 206h6v1h-6zM475 206h8v1h-8zM485 206h4v1h-4zM491 206h2v1h-2zM496 206h11v1h-11zM513 206h2v1h-2zM521 206h2v1h-2zM525 206h2v1h-2zM528 206h3v1h-3zM533 206h7v1h-7zM544 206h5v1h-5zM550 206h3v1h-3zM560 206h2v1h-2zM568 206h10v1h-10zM580 206h2v1h-2zM586 206h4v1h-4zM591 206h4v1h-4zM596 206h3v1h-3zM609 206h3v1h-3zM615 206h4v1h-4zM620 206h5v1h-5zM626 206h3v1h-3zM633 206h10v1h-10zM450 207h5v1h-5zM465 207h2v1h-2zM468 207h3v1h-3zM474 207h3v1h-3zM479 207h3v1h-3zM485 207h11v1h-11zM497 207h4v1h-4zM505 207h2v1h-2zM508 207h11v1h-11zM521 207h8v1h-8zM533 207h2v1h-2zM544 207h2v1h-2zM547 207h8v1h-8zM560 207h2v1h-2zM564 207h2v1h-2zM568 207h2v1h-2zM572 207h2v1h-2zM580 207h2v1h-2zM586 207h4v1h-4zM591 207h4v1h-4zM596 207h4v1h-4zM610 207h2v1h-2zM615 207h2v1h-2zM618 207h2v1h-2zM621 207h6v1h-6zM628 207h2v1h-2zM633 207h2v1h-2zM637 207h2v1h-2zM450 208h2v1h-2zM461 208h3v1h-3zM465 208h2v1h-2zM468 208h3v1h-3zM473 208h2v1h-2zM476 208h5v1h-5zM486 208h3v1h-3zM491 208h2v1h-2zM496 208h6v1h-6zM505 208h2v1h-2zM508 208h2v1h-2zM515 208h2v1h-2zM521 208h2v1h-2zM525 208h3v1h-3zM533 208h2v1h-2zM540 208h3v1h-3zM544 208h10v1h-10zM555 208h7v1h-7zM563 208h3v1h-3zM568 208h2v1h-2zM572 208h2v1h-2zM579 208h11v1h-11zM591 208h6v1h-6zM599 208h2v1h-2zM608 208h18v1h-18zM628 208h3v1h-3zM633 208h2v1h-2zM637 208h2v1h-2zM450 209h2v1h-2zM462 209h4v1h-4zM468 209h5v1h-5zM476 209h5v1h-5zM484 209h5v1h-5zM490 209h5v1h-5zM496 209h11v1h-11zM510 209h7v1h-7zM521 209h2v1h-2zM525 209h2v1h-2zM533 209h2v1h-2zM543 209h3v1h-3zM547 209h2v1h-2zM550 209h4v1h-4zM558 209h7v1h-7zM568 209h2v1h-2zM572 209h2v1h-2zM580 209h2v1h-2zM586 209h2v1h-2zM591 209h5v1h-5zM598 209h4v1h-4zM609 209h2v1h-2zM615 209h2v1h-2zM620 209h5v1h-5zM628 209h4v1h-4zM633 209h2v1h-2zM637 209h2v1h-2zM450 210h4v1h-4zM462 210h9v1h-9zM474 210h3v1h-3zM480 210h4v1h-4zM487 210h4v1h-4zM496 210h8v1h-8zM505 210h2v1h-2zM521 210h10v1h-10zM533 210h2v1h-2zM543 210h3v1h-3zM547 210h7v1h-7zM557 210h7v1h-7zM568 210h10v1h-10zM580 210h8v1h-8zM591 210h4v1h-4zM609 210h2v1h-2zM612 210h6v1h-6zM620 210h5v1h-5zM633 210h10v1h-10zM453 211h2v1h-2zM462 211h2v1h-2zM465 211h2v1h-2zM469 211h2v1h-2zM474 211h9v1h-9zM489 211h2v1h-2zM493 211h11v1h-11zM508 211h11v1h-11zM524 211h3v1h-3zM532 211h10v1h-10zM544 211h10v1h-10zM557 211h2v1h-2zM560 211h4v1h-4zM568 211h2v1h-2zM572 211h2v1h-2zM580 211h2v1h-2zM583 211h2v1h-2zM586 211h2v1h-2zM593 211h8v1h-8zM609 211h2v1h-2zM613 211h2v1h-2zM616 211h2v1h-2zM623 211h8v1h-8zM633 211h2v1h-2zM637 211h2v1h-2zM453 212h2v1h-2zM462 212h2v1h-2zM468 212h3v1h-3zM474 212h2v1h-2zM477 212h2v1h-2zM480 212h3v1h-3zM487 212h8v1h-8zM496 212h2v1h-2zM500 212h4v1h-4zM511 212h2v1h-2zM514 212h2v1h-2zM524 212h3v1h-3zM529 212h2v1h-2zM532 212h5v1h-5zM540 212h2v1h-2zM544 212h9v1h-9zM557 212h2v1h-2zM560 212h5v1h-5zM567 212h3v1h-3zM572 212h5v1h-5zM580 212h2v1h-2zM583 212h2v1h-2zM586 212h2v1h-2zM593 212h8v1h-8zM609 212h2v1h-2zM613 212h2v1h-2zM616 212h2v1h-2zM623 212h7v1h-7zM632 212h3v1h-3zM637 212h5v1h-5zM453 213h2v1h-2zM462 213h3v1h-3zM466 213h4v1h-4zM474 213h9v1h-9zM486 213h3v1h-3zM490 213h4v1h-4zM496 213h2v1h-2zM500 213h4v1h-4zM510 213h3v1h-3zM514 213h2v1h-2zM524 213h3v1h-3zM532 213h5v1h-5zM540 213h2v1h-2zM544 213h9v1h-9zM556 213h2v1h-2zM560 213h2v1h-2zM563 213h3v1h-3zM567 213h2v1h-2zM572 213h2v1h-2zM575 213h2v1h-2zM580 213h5v1h-5zM587 213h2v1h-2zM590 213h11v1h-11zM609 213h6v1h-6zM616 213h2v1h-2zM620 213h10v1h-10zM632 213h2v1h-2zM637 213h2v1h-2zM640 213h2v1h-2zM450 214h2v1h-2zM453 214h2v1h-2zM462 214h2v1h-2zM466 214h4v1h-4zM474 214h2v1h-2zM477 214h2v1h-2zM480 214h3v1h-3zM487 214h2v1h-2zM491 214h3v1h-3zM496 214h2v1h-2zM500 214h4v1h-4zM506 214h2v1h-2zM510 214h2v1h-2zM514 214h2v1h-2zM524 214h3v1h-3zM532 214h5v1h-5zM540 214h2v1h-2zM544 214h10v1h-10zM555 214h2v1h-2zM560 214h2v1h-2zM564 214h5v1h-5zM572 214h2v1h-2zM580 214h6v1h-6zM587 214h4v1h-4zM593 214h2v1h-2zM598 214h2v1h-2zM605 214h2v1h-2zM609 214h6v1h-6zM616 214h4v1h-4zM623 214h2v1h-2zM628 214h2v1h-2zM632 214h2v1h-2zM637 214h2v1h-2zM451 215h3v1h-3zM464 215h3v1h-3zM468 215h4v1h-4zM474 215h9v1h-9zM487 215h4v1h-4zM492 215h6v1h-6zM500 215h11v1h-11zM514 215h6v1h-6zM524 215h3v1h-3zM531 215h2v1h-2zM534 215h8v1h-8zM544 215h4v1h-4zM549 215h2v1h-2zM552 215h3v1h-3zM558 215h4v1h-4zM569 215h9v1h-9zM580 215h2v1h-2zM588 215h3v1h-3zM592 215h10v1h-10zM605 215h2v1h-2zM609 215h2v1h-2zM617 215h3v1h-3zM621 215h11v1h-11zM634 215h9v1h-9zM605 216h2v1h-2zM453 220h2v1h-2zM453 221h2v1h-2zM453 222h2v1h-2zM463 222h3v1h-3zM475 222h3v1h-3zM479 222h2v1h-2zM483 222h2v1h-2zM486 222h4v1h-4zM450 223h10v1h-10zM462 223h2v1h-2zM465 223h2v1h-2zM474 223h2v1h-2zM479 223h3v1h-3zM483 223h2v1h-2zM486 223h5v1h-5zM453 224h2v1h-2zM457 224h2v1h-2zM462 224h2v1h-2zM465 224h2v1h-2zM474 224h2v1h-2zM480 224h2v1h-2zM483 224h2v1h-2zM486 224h2v1h-2zM489 224h2v1h-2zM453 225h2v1h-2zM457 225h2v1h-2zM462 225h2v1h-2zM465 225h2v1h-2zM474 225h4v1h-4zM480 225h2v1h-2zM483 225h2v1h-2zM486 225h2v1h-2zM489 225h2v1h-2zM492 225h4v1h-4zM452 226h3v1h-3zM457 226h2v1h-2zM462 226h2v1h-2zM465 226h2v1h-2zM474 226h2v1h-2zM477 226h2v1h-2zM480 226h2v1h-2zM483 226h2v1h-2zM486 226h4v1h-4zM494 226h2v1h-2zM452 227h2v1h-2zM457 227h2v1h-2zM462 227h2v1h-2zM465 227h2v1h-2zM474 227h2v1h-2zM477 227h2v1h-2zM481 227h4v1h-4zM486 227h2v1h-2zM492 227h4v1h-4zM451 228h3v1h-3zM457 228h2v1h-2zM462 228h2v1h-2zM465 228h2v1h-2zM474 228h2v1h-2zM477 228h2v1h-2zM481 228h4v1h-4zM486 228h2v1h-2zM491 228h5v1h-5zM450 229h3v1h-3zM457 229h2v1h-2zM462 229h2v1h-2zM465 229h2v1h-2zM469 229h3v1h-3zM474 229h2v1h-2zM477 229h2v1h-2zM481 229h4v1h-4zM486 229h2v1h-2zM491 229h5v1h-5zM449 230h2v1h-2zM455 230h4v1h-4zM463 230h3v1h-3zM469 230h2v1h-2zM475 230h3v1h-3zM479 230h2v1h-2zM483 230h2v1h-2zM486 230h2v1h-2zM492 230h2v1h-2zM495 230h2v1h-2zM462 236h3v1h-3zM474 236h2v1h-2zM478 236h2v1h-2zM485 236h3v1h-3zM490 236h2v1h-2zM505 236h2v1h-2zM517 236h2v1h-2zM522 236h2v1h-2zM535 236h2v1h-2zM538 236h2v1h-2zM548 236h2v1h-2zM556 236h2v1h-2zM560 236h2v1h-2zM563 236h2v1h-2zM573 236h2v1h-2zM583 236h2v1h-2zM593 236h2v1h-2zM598 236h4v1h-4zM462 237h3v1h-3zM474 237h2v1h-2zM478 237h2v1h-2zM485 237h11v1h-11zM498 237h5v1h-5zM505 237h2v1h-2zM508 237h7v1h-7zM516 237h3v1h-3zM522 237h2v1h-2zM526 237h5v1h-5zM534 237h3v1h-3zM538 237h2v1h-2zM549 237h2v1h-2zM553 237h2v1h-2zM556 237h11v1h-11zM568 237h3v1h-3zM573 237h2v1h-2zM579 237h11v1h-11zM593 237h8v1h-8zM451 238h4v1h-4zM462 238h10v1h-10zM473 238h10v1h-10zM484 238h2v1h-2zM487 238h4v1h-4zM492 238h2v1h-2zM498 238h5v1h-5zM505 238h2v1h-2zM509 238h2v1h-2zM512 238h2v1h-2zM515 238h3v1h-3zM520 238h8v1h-8zM529 238h2v1h-2zM534 238h2v1h-2zM539 238h2v1h-2zM544 238h11v1h-11zM558 238h8v1h-8zM571 238h4v1h-4zM582 238h2v1h-2zM585 238h2v1h-2zM593 238h8v1h-8zM450 239h2v1h-2zM462 239h7v1h-7zM470 239h2v1h-2zM474 239h2v1h-2zM478 239h2v1h-2zM481 239h2v1h-2zM485 239h2v1h-2zM489 239h2v1h-2zM493 239h2v1h-2zM496 239h11v1h-11zM509 239h2v1h-2zM512 239h4v1h-4zM517 239h2v1h-2zM521 239h2v1h-2zM524 239h6v1h-6zM533 239h2v1h-2zM539 239h2v1h-2zM544 239h9v1h-9zM555 239h11v1h-11zM567 239h2v1h-2zM571 239h4v1h-4zM576 239h2v1h-2zM580 239h4v1h-4zM585 239h5v1h-5zM591 239h10v1h-10zM450 240h2v1h-2zM462 240h2v1h-2zM465 240h4v1h-4zM470 240h2v1h-2zM473 240h3v1h-3zM477 240h3v1h-3zM481 240h2v1h-2zM485 240h2v1h-2zM493 240h2v1h-2zM496 240h4v1h-4zM502 240h5v1h-5zM509 240h6v1h-6zM516 240h3v1h-3zM521 240h4v1h-4zM526 240h4v1h-4zM532 240h2v1h-2zM539 240h4v1h-4zM544 240h4v1h-4zM549 240h4v1h-4zM556 240h10v1h-10zM567 240h8v1h-8zM576 240h5v1h-5zM582 240h2v1h-2zM585 240h2v1h-2zM588 240h13v1h-13zM450 241h4v1h-4zM462 241h2v1h-2zM465 241h4v1h-4zM470 241h6v1h-6zM478 241h5v1h-5zM484 241h10v1h-10zM496 241h2v1h-2zM500 241h7v1h-7zM509 241h5v1h-5zM515 241h3v1h-3zM520 241h10v1h-10zM533 241h10v1h-10zM544 241h10v1h-10zM556 241h2v1h-2zM559 241h4v1h-4zM568 241h4v1h-4zM573 241h2v1h-2zM581 241h8v1h-8zM590 241h2v1h-2zM595 241h6v1h-6zM450 242h2v1h-2zM453 242h2v1h-2zM462 242h2v1h-2zM465 242h4v1h-4zM470 242h2v1h-2zM474 242h2v1h-2zM477 242h7v1h-7zM486 242h3v1h-3zM492 242h2v1h-2zM496 242h6v1h-6zM503 242h4v1h-4zM509 242h2v1h-2zM512 242h5v1h-5zM521 242h2v1h-2zM524 242h4v1h-4zM529 242h2v1h-2zM535 242h2v1h-2zM539 242h2v1h-2zM544 242h3v1h-3zM548 242h7v1h-7zM556 242h10v1h-10zM568 242h2v1h-2zM573 242h5v1h-5zM581 242h2v1h-2zM587 242h2v1h-2zM590 242h11v1h-11zM450 243h2v1h-2zM453 243h2v1h-2zM462 243h2v1h-2zM465 243h4v1h-4zM470 243h2v1h-2zM473 243h5v1h-5zM482 243h2v1h-2zM486 243h3v1h-3zM492 243h2v1h-2zM498 243h9v1h-9zM509 243h2v1h-2zM512 243h2v1h-2zM517 243h2v1h-2zM520 243h3v1h-3zM524 243h4v1h-4zM529 243h2v1h-2zM535 243h2v1h-2zM539 243h2v1h-2zM544 243h2v1h-2zM549 243h2v1h-2zM552 243h2v1h-2zM556 243h10v1h-10zM567 243h3v1h-3zM575 243h2v1h-2zM580 243h3v1h-3zM587 243h2v1h-2zM593 243h8v1h-8zM450 244h2v1h-2zM453 244h2v1h-2zM461 244h3v1h-3zM465 244h4v1h-4zM470 244h2v1h-2zM486 244h9v1h-9zM498 244h2v1h-2zM503 244h4v1h-4zM509 244h2v1h-2zM512 244h2v1h-2zM516 244h2v1h-2zM520 244h3v1h-3zM524 244h7v1h-7zM534 244h3v1h-3zM539 244h2v1h-2zM544 244h10v1h-10zM555 244h8v1h-8zM567 244h2v1h-2zM574 244h2v1h-2zM580 244h10v1h-10zM593 244h3v1h-3zM597 244h5v1h-5zM450 245h5v1h-5zM461 245h2v1h-2zM464 245h8v1h-8zM474 245h4v1h-4zM479 245h5v1h-5zM486 245h2v1h-2zM492 245h3v1h-3zM498 245h2v1h-2zM502 245h5v1h-5zM508 245h2v1h-2zM512 245h2v1h-2zM515 245h2v1h-2zM520 245h3v1h-3zM524 245h7v1h-7zM534 245h2v1h-2zM539 245h2v1h-2zM543 245h2v1h-2zM549 245h2v1h-2zM556 245h10v1h-10zM567 245h3v1h-3zM572 245h3v1h-3zM587 245h2v1h-2zM592 245h4v1h-4zM597 245h5v1h-5zM452 246h2v1h-2zM463 246h3v1h-3zM467 246h2v1h-2zM470 246h2v1h-2zM473 246h2v1h-2zM476 246h2v1h-2zM479 246h2v1h-2zM482 246h2v1h-2zM486 246h9v1h-9zM497 246h8v1h-8zM506 246h4v1h-4zM512 246h4v1h-4zM520 246h3v1h-3zM524 246h4v1h-4zM532 246h3v1h-3zM537 246h3v1h-3zM543 246h12v1h-12zM556 246h10v1h-10zM567 246h7v1h-7zM585 246h4v1h-4zM591 246h4v1h-4zM597 246h6v1h-6zM464 251h2v1h-2zM475 251h2v1h-2zM486 251h3v1h-3zM491 251h2v1h-2zM498 251h2v1h-2zM509 251h2v1h-2zM512 251h4v1h-4zM521 251h2v1h-2zM526 251h2v1h-2zM548 251h2v1h-2zM569 251h2v1h-2zM573 251h2v1h-2zM583 251h2v1h-2zM619 251h2v1h-2zM635 251h2v1h-2zM464 252h7v1h-7zM475 252h9v1h-9zM486 252h7v1h-7zM498 252h2v1h-2zM509 252h2v1h-2zM512 252h4v1h-4zM521 252h3v1h-3zM526 252h2v1h-2zM532 252h11v1h-11zM545 252h5v1h-5zM555 252h11v1h-11zM567 252h4v1h-4zM573 252h2v1h-2zM579 252h11v1h-11zM591 252h4v1h-4zM598 252h2v1h-2zM620 252h2v1h-2zM623 252h2v1h-2zM626 252h11v1h-11zM450 253h5v1h-5zM463 253h3v1h-3zM468 253h2v1h-2zM473 253h11v1h-11zM486 253h9v1h-9zM498 253h9v1h-9zM511 253h8v1h-8zM523 253h8v1h-8zM532 253h2v1h-2zM540 253h3v1h-3zM545 253h2v1h-2zM548 253h2v1h-2zM552 253h2v1h-2zM555 253h11v1h-11zM568 253h10v1h-10zM580 253h3v1h-3zM588 253h2v1h-2zM591 253h4v1h-4zM598 253h4v1h-4zM615 253h10v1h-10zM628 253h2v1h-2zM632 253h2v1h-2zM450 254h2v1h-2zM453 254h2v1h-2zM462 254h2v1h-2zM465 254h4v1h-4zM473 254h10v1h-10zM485 254h10v1h-10zM498 254h2v1h-2zM508 254h5v1h-5zM514 254h2v1h-2zM520 254h5v1h-5zM526 254h2v1h-2zM529 254h2v1h-2zM532 254h11v1h-11zM544 254h10v1h-10zM555 254h11v1h-11zM568 254h3v1h-3zM573 254h2v1h-2zM579 254h6v1h-6zM588 254h2v1h-2zM591 254h11v1h-11zM615 254h2v1h-2zM627 254h10v1h-10zM453 255h2v1h-2zM461 255h2v1h-2zM465 255h3v1h-3zM474 255h4v1h-4zM479 255h2v1h-2zM485 255h4v1h-4zM490 255h3v1h-3zM498 255h2v1h-2zM509 255h3v1h-3zM514 255h2v1h-2zM521 255h4v1h-4zM526 255h2v1h-2zM529 255h2v1h-2zM532 255h2v1h-2zM538 255h5v1h-5zM544 255h2v1h-2zM548 255h2v1h-2zM555 255h11v1h-11zM567 255h4v1h-4zM573 255h5v1h-5zM579 255h11v1h-11zM591 255h4v1h-4zM598 255h2v1h-2zM615 255h2v1h-2zM619 255h2v1h-2zM622 255h3v1h-3zM626 255h11v1h-11zM452 256h2v1h-2zM464 256h6v1h-6zM473 256h10v1h-10zM484 256h4v1h-4zM490 256h3v1h-3zM498 256h2v1h-2zM504 256h3v1h-3zM509 256h10v1h-10zM521 256h4v1h-4zM526 256h2v1h-2zM529 256h2v1h-2zM532 256h5v1h-5zM538 256h7v1h-7zM548 256h2v1h-2zM555 256h11v1h-11zM569 256h4v1h-4zM579 256h8v1h-8zM588 256h2v1h-2zM591 256h6v1h-6zM598 256h2v1h-2zM615 256h6v1h-6zM622 256h2v1h-2zM627 256h10v1h-10zM452 257h2v1h-2zM462 257h3v1h-3zM468 257h7v1h-7zM477 257h4v1h-4zM482 257h2v1h-2zM485 257h11v1h-11zM504 257h3v1h-3zM509 257h2v1h-2zM512 257h5v1h-5zM521 257h10v1h-10zM532 257h5v1h-5zM538 257h5v1h-5zM545 257h9v1h-9zM555 257h5v1h-5zM561 257h2v1h-2zM564 257h2v1h-2zM572 257h2v1h-2zM576 257h2v1h-2zM579 257h2v1h-2zM582 257h5v1h-5zM591 257h4v1h-4zM596 257h4v1h-4zM615 257h4v1h-4zM620 257h4v1h-4zM627 257h2v1h-2zM630 257h7v1h-7zM452 258h2v1h-2zM463 258h8v1h-8zM473 258h2v1h-2zM477 258h4v1h-4zM482 258h2v1h-2zM485 258h3v1h-3zM490 258h3v1h-3zM496 258h10v1h-10zM508 258h2v1h-2zM512 258h2v1h-2zM515 258h2v1h-2zM520 258h5v1h-5zM526 258h2v1h-2zM529 258h2v1h-2zM532 258h11v1h-11zM548 258h2v1h-2zM555 258h11v1h-11zM570 258h4v1h-4zM575 258h3v1h-3zM579 258h2v1h-2zM583 258h4v1h-4zM591 258h4v1h-4zM596 258h4v1h-4zM615 258h8v1h-8zM627 258h2v1h-2zM630 258h7v1h-7zM451 259h2v1h-2zM463 259h2v1h-2zM468 259h2v1h-2zM473 259h2v1h-2zM477 259h4v1h-4zM482 259h2v1h-2zM485 259h3v1h-3zM490 259h3v1h-3zM504 259h2v1h-2zM508 259h2v1h-2zM512 259h2v1h-2zM515 259h2v1h-2zM520 259h2v1h-2zM523 259h2v1h-2zM526 259h2v1h-2zM529 259h2v1h-2zM532 259h5v1h-5zM538 259h5v1h-5zM548 259h2v1h-2zM555 259h7v1h-7zM563 259h2v1h-2zM568 259h4v1h-4zM573 259h3v1h-3zM579 259h2v1h-2zM583 259h4v1h-4zM591 259h4v1h-4zM598 259h2v1h-2zM615 259h2v1h-2zM621 259h2v1h-2zM627 259h2v1h-2zM630 259h4v1h-4zM635 259h2v1h-2zM451 260h2v1h-2zM463 260h2v1h-2zM468 260h2v1h-2zM473 260h3v1h-3zM477 260h7v1h-7zM485 260h3v1h-3zM490 260h3v1h-3zM504 260h2v1h-2zM508 260h6v1h-6zM515 260h2v1h-2zM518 260h7v1h-7zM526 260h2v1h-2zM529 260h2v1h-2zM532 260h2v1h-2zM540 260h3v1h-3zM548 260h2v1h-2zM555 260h5v1h-5zM561 260h4v1h-4zM567 260h2v1h-2zM570 260h2v1h-2zM573 260h3v1h-3zM579 260h2v1h-2zM583 260h4v1h-4zM589 260h6v1h-6zM598 260h2v1h-2zM602 260h3v1h-3zM614 260h2v1h-2zM627 260h2v1h-2zM632 260h4v1h-4zM463 261h7v1h-7zM473 261h2v1h-2zM477 261h4v1h-4zM485 261h3v1h-3zM490 261h3v1h-3zM502 261h4v1h-4zM508 261h4v1h-4zM515 261h11v1h-11zM529 261h2v1h-2zM532 261h2v1h-2zM539 261h20v1h-20zM560 261h6v1h-6zM569 261h5v1h-5zM575 261h3v1h-3zM579 261h2v1h-2zM583 261h8v1h-8zM597 261h3v1h-3zM603 261h2v1h-2zM614 261h11v1h-11zM626 261h3v1h-3zM630 261h3v1h-3zM635 261h2v1h-2zM540 262h2v1h-2zM603 262h2v1h-2zM451 267h5v1h-5zM462 267h2v1h-2zM469 267h2v1h-2zM475 267h2v1h-2zM479 267h2v1h-2zM486 267h3v1h-3zM491 267h2v1h-2zM498 267h2v1h-2zM504 267h2v1h-2zM528 267h2v1h-2zM539 267h3v1h-3zM544 267h2v1h-2zM552 267h2v1h-2zM556 267h2v1h-2zM565 267h2v1h-2zM577 267h2v1h-2zM591 267h4v1h-4zM602 267h4v1h-4zM610 267h2v1h-2zM617 267h3v1h-3zM623 267h2v1h-2zM626 267h3v1h-3zM636 267h2v1h-2zM646 267h2v1h-2zM650 267h2v1h-2zM657 267h2v1h-2zM663 267h2v1h-2zM681 267h2v1h-2zM693 267h2v1h-2zM697 267h2v1h-2zM716 267h2v1h-2zM722 267h3v1h-3zM729 267h2v1h-2zM732 267h3v1h-3zM746 267h2v1h-2zM757 267h2v1h-2zM764 267h2v1h-2zM775 267h2v1h-2zM792 267h4v1h-4zM451 268h5v1h-5zM462 268h2v1h-2zM465 268h6v1h-6zM473 268h4v1h-4zM478 268h4v1h-4zM486 268h7v1h-7zM498 268h2v1h-2zM504 268h2v1h-2zM528 268h9v1h-9zM539 268h7v1h-7zM550 268h4v1h-4zM556 268h2v1h-2zM561 268h11v1h-11zM578 268h2v1h-2zM586 268h7v1h-7zM598 268h5v1h-5zM610 268h8v1h-8zM620 268h5v1h-5zM626 268h3v1h-3zM632 268h11v1h-11zM645 268h7v1h-7zM657 268h2v1h-2zM663 268h2v1h-2zM681 268h10v1h-10zM692 268h7v1h-7zM716 268h2v1h-2zM719 268h5v1h-5zM726 268h5v1h-5zM732 268h3v1h-3zM738 268h5v1h-5zM746 268h2v1h-2zM751 268h2v1h-2zM757 268h2v1h-2zM762 268h3v1h-3zM766 268h7v1h-7zM775 268h2v1h-2zM778 268h7v1h-7zM787 268h7v1h-7zM450 269h9v1h-9zM462 269h5v1h-5zM473 269h10v1h-10zM486 269h9v1h-9zM498 269h2v1h-2zM504 269h2v1h-2zM509 269h4v1h-4zM517 269h2v1h-2zM526 269h11v1h-11zM539 269h9v1h-9zM550 269h11v1h-11zM562 269h4v1h-4zM570 269h2v1h-2zM573 269h11v1h-11zM586 269h2v1h-2zM597 269h11v1h-11zM609 269h7v1h-7zM621 269h11v1h-11zM633 269h3v1h-3zM641 269h2v1h-2zM645 269h4v1h-4zM650 269h2v1h-2zM653 269h2v1h-2zM657 269h2v1h-2zM663 269h2v1h-2zM669 269h4v1h-4zM676 269h2v1h-2zM679 269h11v1h-11zM692 269h7v1h-7zM700 269h2v1h-2zM716 269h5v1h-5zM726 269h4v1h-4zM731 269h2v1h-2zM734 269h3v1h-3zM738 269h2v1h-2zM741 269h2v1h-2zM746 269h2v1h-2zM751 269h2v1h-2zM757 269h4v1h-4zM763 269h2v1h-2zM766 269h2v1h-2zM770 269h3v1h-3zM775 269h2v1h-2zM778 269h2v1h-2zM782 269h3v1h-3zM787 269h2v1h-2zM450 270h2v1h-2zM453 270h3v1h-3zM462 270h5v1h-5zM470 270h2v1h-2zM473 270h6v1h-6zM481 270h3v1h-3zM485 270h10v1h-10zM498 270h8v1h-8zM509 270h2v1h-2zM512 270h2v1h-2zM516 270h3v1h-3zM526 270h10v1h-10zM538 270h10v1h-10zM551 270h3v1h-3zM556 270h2v1h-2zM561 270h6v1h-6zM570 270h2v1h-2zM573 270h2v1h-2zM580 270h2v1h-2zM586 270h2v1h-2zM593 270h3v1h-3zM601 270h2v1h-2zM609 270h2v1h-2zM612 270h4v1h-4zM622 270h3v1h-3zM626 270h3v1h-3zM632 270h6v1h-6zM641 270h2v1h-2zM644 270h11v1h-11zM657 270h8v1h-8zM671 270h2v1h-2zM675 270h3v1h-3zM680 270h2v1h-2zM683 270h2v1h-2zM686 270h4v1h-4zM692 270h10v1h-10zM715 270h6v1h-6zM724 270h8v1h-8zM735 270h5v1h-5zM741 270h9v1h-9zM757 270h3v1h-3zM763 270h5v1h-5zM770 270h10v1h-10zM782 270h3v1h-3zM787 270h2v1h-2zM449 271h2v1h-2zM453 271h3v1h-3zM462 271h2v1h-2zM465 271h7v1h-7zM473 271h3v1h-3zM477 271h6v1h-6zM485 271h4v1h-4zM490 271h3v1h-3zM498 271h2v1h-2zM512 271h2v1h-2zM517 271h2v1h-2zM527 271h4v1h-4zM532 271h2v1h-2zM538 271h4v1h-4zM543 271h3v1h-3zM549 271h5v1h-5zM555 271h5v1h-5zM561 271h11v1h-11zM575 271h7v1h-7zM586 271h2v1h-2zM597 271h10v1h-10zM608 271h17v1h-17zM626 271h5v1h-5zM632 271h11v1h-11zM644 271h3v1h-3zM650 271h2v1h-2zM657 271h2v1h-2zM671 271h2v1h-2zM676 271h2v1h-2zM680 271h2v1h-2zM686 271h3v1h-3zM691 271h5v1h-5zM697 271h2v1h-2zM716 271h2v1h-2zM719 271h11v1h-11zM731 271h5v1h-5zM738 271h5v1h-5zM746 271h2v1h-2zM750 271h3v1h-3zM754 271h2v1h-2zM757 271h2v1h-2zM763 271h2v1h-2zM766 271h2v1h-2zM770 271h2v1h-2zM774 271h3v1h-3zM778 271h2v1h-2zM782 271h3v1h-3zM787 271h9v1h-9zM449 272h11v1h-11zM462 272h5v1h-5zM468 272h2v1h-2zM473 272h4v1h-4zM479 272h2v1h-2zM482 272h6v1h-6zM490 272h3v1h-3zM496 272h12v1h-12zM511 272h3v1h-3zM517 272h2v1h-2zM526 272h10v1h-10zM537 272h4v1h-4zM543 272h3v1h-3zM552 272h4v1h-4zM561 272h8v1h-8zM570 272h2v1h-2zM586 272h2v1h-2zM597 272h10v1h-10zM610 272h2v1h-2zM614 272h2v1h-2zM617 272h2v1h-2zM622 272h5v1h-5zM632 272h8v1h-8zM641 272h2v1h-2zM644 272h3v1h-3zM650 272h2v1h-2zM655 272h12v1h-12zM671 272h2v1h-2zM676 272h2v1h-2zM679 272h11v1h-11zM691 272h3v1h-3zM697 272h2v1h-2zM716 272h5v1h-5zM722 272h2v1h-2zM726 272h4v1h-4zM733 272h2v1h-2zM738 272h2v1h-2zM741 272h4v1h-4zM746 272h2v1h-2zM751 272h2v1h-2zM754 272h5v1h-5zM762 272h4v1h-4zM770 272h3v1h-3zM774 272h6v1h-6zM782 272h3v1h-3zM786 272h3v1h-3zM793 272h2v1h-2zM452 273h2v1h-2zM455 273h2v1h-2zM460 273h4v1h-4zM465 273h5v1h-5zM473 273h11v1h-11zM485 273h11v1h-11zM498 273h2v1h-2zM510 273h3v1h-3zM517 273h2v1h-2zM526 273h2v1h-2zM530 273h4v1h-4zM535 273h2v1h-2zM538 273h11v1h-11zM554 273h2v1h-2zM558 273h11v1h-11zM573 273h11v1h-11zM585 273h10v1h-10zM597 273h3v1h-3zM601 273h2v1h-2zM604 273h3v1h-3zM609 273h7v1h-7zM617 273h2v1h-2zM625 273h2v1h-2zM629 273h2v1h-2zM632 273h2v1h-2zM635 273h5v1h-5zM645 273h10v1h-10zM658 273h2v1h-2zM670 273h3v1h-3zM676 273h2v1h-2zM680 273h2v1h-2zM683 273h2v1h-2zM686 273h4v1h-4zM692 273h10v1h-10zM714 273h10v1h-10zM726 273h2v1h-2zM729 273h8v1h-8zM738 273h2v1h-2zM741 273h7v1h-7zM751 273h2v1h-2zM755 273h4v1h-4zM762 273h5v1h-5zM768 273h2v1h-2zM774 273h6v1h-6zM782 273h3v1h-3zM786 273h5v1h-5zM792 273h3v1h-3zM452 274h2v1h-2zM455 274h2v1h-2zM462 274h2v1h-2zM465 274h2v1h-2zM468 274h4v1h-4zM473 274h8v1h-8zM485 274h3v1h-3zM490 274h3v1h-3zM498 274h8v1h-8zM512 274h2v1h-2zM517 274h2v1h-2zM526 274h2v1h-2zM530 274h4v1h-4zM535 274h2v1h-2zM538 274h3v1h-3zM543 274h3v1h-3zM552 274h8v1h-8zM561 274h2v1h-2zM565 274h4v1h-4zM576 274h2v1h-2zM579 274h2v1h-2zM585 274h5v1h-5zM593 274h2v1h-2zM597 274h10v1h-10zM609 274h4v1h-4zM614 274h2v1h-2zM617 274h2v1h-2zM623 274h4v1h-4zM628 274h3v1h-3zM632 274h2v1h-2zM636 274h4v1h-4zM645 274h2v1h-2zM650 274h2v1h-2zM657 274h9v1h-9zM671 274h3v1h-3zM676 274h2v1h-2zM680 274h2v1h-2zM683 274h2v1h-2zM686 274h2v1h-2zM689 274h2v1h-2zM692 274h2v1h-2zM697 274h2v1h-2zM716 274h4v1h-4zM722 274h3v1h-3zM726 274h2v1h-2zM729 274h6v1h-6zM738 274h2v1h-2zM741 274h2v1h-2zM744 274h4v1h-4zM751 274h2v1h-2zM757 274h2v1h-2zM762 274h3v1h-3zM768 274h2v1h-2zM773 274h4v1h-4zM778 274h2v1h-2zM782 274h3v1h-3zM786 274h2v1h-2zM790 274h4v1h-4zM451 275h3v1h-3zM455 275h2v1h-2zM462 275h2v1h-2zM465 275h2v1h-2zM468 275h4v1h-4zM473 275h11v1h-11zM485 275h3v1h-3zM490 275h3v1h-3zM504 275h2v1h-2zM512 275h2v1h-2zM517 275h2v1h-2zM526 275h2v1h-2zM530 275h4v1h-4zM535 275h2v1h-2zM538 275h3v1h-3zM543 275h3v1h-3zM551 275h3v1h-3zM555 275h4v1h-4zM561 275h2v1h-2zM565 275h4v1h-4zM575 275h3v1h-3zM579 275h2v1h-2zM585 275h5v1h-5zM593 275h2v1h-2zM601 275h2v1h-2zM605 275h2v1h-2zM609 275h7v1h-7zM617 275h2v1h-2zM622 275h3v1h-3zM626 275h4v1h-4zM632 275h2v1h-2zM636 275h4v1h-4zM645 275h2v1h-2zM650 275h2v1h-2zM663 275h2v1h-2zM672 275h2v1h-2zM676 275h2v1h-2zM680 275h2v1h-2zM683 275h2v1h-2zM686 275h5v1h-5zM692 275h2v1h-2zM697 275h2v1h-2zM716 275h4v1h-4zM722 275h10v1h-10zM733 275h4v1h-4zM738 275h5v1h-5zM746 275h2v1h-2zM751 275h2v1h-2zM757 275h2v1h-2zM763 275h2v1h-2zM766 275h6v1h-6zM775 275h2v1h-2zM778 275h2v1h-2zM782 275h3v1h-3zM786 275h2v1h-2zM790 275h3v1h-3zM797 275h4v1h-4zM451 276h2v1h-2zM455 276h2v1h-2zM462 276h4v1h-4zM468 276h2v1h-2zM473 276h2v1h-2zM476 276h2v1h-2zM479 276h2v1h-2zM482 276h2v1h-2zM485 276h3v1h-3zM490 276h3v1h-3zM504 276h2v1h-2zM509 276h2v1h-2zM512 276h2v1h-2zM517 276h2v1h-2zM522 276h2v1h-2zM526 276h3v1h-3zM530 276h7v1h-7zM538 276h3v1h-3zM543 276h3v1h-3zM552 276h2v1h-2zM556 276h3v1h-3zM561 276h2v1h-2zM565 276h4v1h-4zM571 276h2v1h-2zM575 276h2v1h-2zM579 276h2v1h-2zM585 276h5v1h-5zM593 276h2v1h-2zM601 276h2v1h-2zM608 276h7v1h-7zM617 276h2v1h-2zM620 276h2v1h-2zM623 276h2v1h-2zM627 276h3v1h-3zM632 276h2v1h-2zM636 276h4v1h-4zM642 276h2v1h-2zM645 276h2v1h-2zM650 276h2v1h-2zM663 276h2v1h-2zM668 276h2v1h-2zM671 276h2v1h-2zM676 276h2v1h-2zM680 276h2v1h-2zM683 276h2v1h-2zM686 276h4v1h-4zM692 276h2v1h-2zM697 276h2v1h-2zM703 276h3v1h-3zM716 276h4v1h-4zM722 276h2v1h-2zM726 276h2v1h-2zM730 276h2v1h-2zM733 276h2v1h-2zM736 276h4v1h-4zM741 276h2v1h-2zM746 276h2v1h-2zM750 276h4v1h-4zM757 276h2v1h-2zM763 276h2v1h-2zM768 276h2v1h-2zM775 276h2v1h-2zM778 276h2v1h-2zM782 276h3v1h-3zM786 276h2v1h-2zM789 276h6v1h-6zM799 276h2v1h-2zM449 277h3v1h-3zM455 277h11v1h-11zM468 277h2v1h-2zM473 277h2v1h-2zM478 277h3v1h-3zM485 277h3v1h-3zM490 277h3v1h-3zM502 277h3v1h-3zM510 277h3v1h-3zM516 277h3v1h-3zM522 277h3v1h-3zM526 277h2v1h-2zM530 277h4v1h-4zM538 277h3v1h-3zM543 277h3v1h-3zM552 277h4v1h-4zM557 277h6v1h-6zM565 277h11v1h-11zM579 277h7v1h-7zM587 277h8v1h-8zM596 277h12v1h-12zM610 277h2v1h-2zM613 277h2v1h-2zM617 277h2v1h-2zM623 277h4v1h-4zM628 277h6v1h-6zM636 277h8v1h-8zM645 277h2v1h-2zM650 277h2v1h-2zM661 277h4v1h-4zM669 277h3v1h-3zM675 277h4v1h-4zM680 277h2v1h-2zM683 277h2v1h-2zM686 277h2v1h-2zM692 277h2v1h-2zM697 277h2v1h-2zM703 277h3v1h-3zM715 277h4v1h-4zM722 277h2v1h-2zM726 277h2v1h-2zM732 277h3v1h-3zM744 277h4v1h-4zM749 277h3v1h-3zM753 277h8v1h-8zM763 277h10v1h-10zM775 277h2v1h-2zM778 277h2v1h-2zM782 277h8v1h-8zM793 277h8v1h-8zM522 278h2v1h-2zM703 278h2v1h-2zM798 278h2v1h-2zM463 282h2v1h-2zM467 282h2v1h-2zM477 282h2v1h-2zM493 282h2v1h-2zM505 282h2v1h-2zM515 282h2v1h-2zM581 282h2v1h-2zM584 282h2v1h-2zM599 282h2v1h-2zM630 282h4v1h-4zM461 283h4v1h-4zM467 283h2v1h-2zM473 283h11v1h-11zM485 283h2v1h-2zM488 283h2v1h-2zM493 283h9v1h-9zM505 283h2v1h-2zM509 283h3v1h-3zM515 283h3v1h-3zM580 283h3v1h-3zM585 283h2v1h-2zM591 283h10v1h-10zM618 283h3v1h-3zM629 283h5v1h-5zM451 284h3v1h-3zM462 284h10v1h-10zM474 284h3v1h-3zM482 284h2v1h-2zM485 284h10v1h-10zM496 284h11v1h-11zM509 284h3v1h-3zM515 284h3v1h-3zM521 284h5v1h-5zM529 284h2v1h-2zM533 284h4v1h-4zM545 284h4v1h-4zM551 284h4v1h-4zM558 284h2v1h-2zM570 284h2v1h-2zM580 284h2v1h-2zM585 284h2v1h-2zM588 284h2v1h-2zM591 284h10v1h-10zM603 284h3v1h-3zM610 284h4v1h-4zM618 284h3v1h-3zM629 284h2v1h-2zM632 284h2v1h-2zM450 285h2v1h-2zM453 285h2v1h-2zM462 285h3v1h-3zM467 285h2v1h-2zM472 285h7v1h-7zM482 285h2v1h-2zM485 285h4v1h-4zM490 285h5v1h-5zM496 285h5v1h-5zM502 285h5v1h-5zM509 285h9v1h-9zM523 285h3v1h-3zM529 285h2v1h-2zM533 285h2v1h-2zM545 285h4v1h-4zM557 285h3v1h-3zM569 285h3v1h-3zM580 285h2v1h-2zM591 285h2v1h-2zM595 285h2v1h-2zM599 285h3v1h-3zM604 285h2v1h-2zM609 285h2v1h-2zM612 285h2v1h-2zM618 285h3v1h-3zM628 285h2v1h-2zM632 285h2v1h-2zM450 286h2v1h-2zM453 286h2v1h-2zM461 286h4v1h-4zM467 286h17v1h-17zM485 286h7v1h-7zM493 286h2v1h-2zM496 286h8v1h-8zM505 286h2v1h-2zM523 286h2v1h-2zM528 286h3v1h-3zM533 286h2v1h-2zM544 286h2v1h-2zM547 286h3v1h-3zM558 286h2v1h-2zM570 286h2v1h-2zM579 286h3v1h-3zM587 286h2v1h-2zM592 286h2v1h-2zM595 286h2v1h-2zM598 286h2v1h-2zM604 286h2v1h-2zM612 286h2v1h-2zM618 286h3v1h-3zM628 286h2v1h-2zM632 286h2v1h-2zM450 287h5v1h-5zM463 287h4v1h-4zM472 287h9v1h-9zM482 287h2v1h-2zM485 287h2v1h-2zM488 287h7v1h-7zM496 287h3v1h-3zM500 287h7v1h-7zM508 287h11v1h-11zM523 287h2v1h-2zM529 287h2v1h-2zM533 287h4v1h-4zM544 287h2v1h-2zM548 287h2v1h-2zM551 287h3v1h-3zM558 287h2v1h-2zM570 287h2v1h-2zM580 287h2v1h-2zM583 287h2v1h-2zM587 287h2v1h-2zM592 287h9v1h-9zM604 287h2v1h-2zM612 287h2v1h-2zM618 287h3v1h-3zM628 287h3v1h-3zM632 287h2v1h-2zM450 288h5v1h-5zM466 288h2v1h-2zM470 288h5v1h-5zM476 288h5v1h-5zM485 288h10v1h-10zM496 288h11v1h-11zM510 288h2v1h-2zM522 288h2v1h-2zM527 288h4v1h-4zM535 288h3v1h-3zM544 288h2v1h-2zM548 288h2v1h-2zM553 288h2v1h-2zM558 288h2v1h-2zM570 288h2v1h-2zM580 288h2v1h-2zM583 288h2v1h-2zM586 288h3v1h-3zM592 288h8v1h-8zM604 288h2v1h-2zM612 288h2v1h-2zM618 288h4v1h-4zM625 288h5v1h-5zM632 288h2v1h-2zM450 289h2v1h-2zM453 289h2v1h-2zM464 289h4v1h-4zM469 289h6v1h-6zM477 289h4v1h-4zM485 289h2v1h-2zM490 289h2v1h-2zM493 289h2v1h-2zM496 289h3v1h-3zM502 289h2v1h-2zM505 289h2v1h-2zM510 289h8v1h-8zM522 289h2v1h-2zM529 289h2v1h-2zM536 289h2v1h-2zM544 289h2v1h-2zM548 289h2v1h-2zM554 289h2v1h-2zM558 289h2v1h-2zM562 289h5v1h-5zM570 289h2v1h-2zM580 289h2v1h-2zM583 289h5v1h-5zM592 289h2v1h-2zM598 289h2v1h-2zM604 289h2v1h-2zM611 289h2v1h-2zM617 289h2v1h-2zM620 289h2v1h-2zM628 289h2v1h-2zM632 289h2v1h-2zM450 290h2v1h-2zM453 290h2v1h-2zM462 290h4v1h-4zM467 290h3v1h-3zM472 290h3v1h-3zM476 290h5v1h-5zM485 290h2v1h-2zM488 290h4v1h-4zM493 290h2v1h-2zM496 290h3v1h-3zM500 290h4v1h-4zM505 290h2v1h-2zM516 290h2v1h-2zM521 290h2v1h-2zM526 290h6v1h-6zM536 290h2v1h-2zM544 290h6v1h-6zM554 290h2v1h-2zM558 290h2v1h-2zM570 290h2v1h-2zM580 290h2v1h-2zM584 290h4v1h-4zM592 290h3v1h-3zM598 290h2v1h-2zM604 290h2v1h-2zM610 290h2v1h-2zM616 290h3v1h-3zM621 290h2v1h-2zM628 290h2v1h-2zM632 290h2v1h-2zM638 290h2v1h-2zM450 291h2v1h-2zM453 291h2v1h-2zM461 291h2v1h-2zM464 291h2v1h-2zM467 291h3v1h-3zM472 291h3v1h-3zM477 291h4v1h-4zM482 291h2v1h-2zM485 291h2v1h-2zM490 291h5v1h-5zM496 291h3v1h-3zM502 291h5v1h-5zM515 291h3v1h-3zM521 291h2v1h-2zM524 291h2v1h-2zM529 291h2v1h-2zM533 291h5v1h-5zM540 291h2v1h-2zM545 291h4v1h-4zM550 291h2v1h-2zM553 291h2v1h-2zM558 291h2v1h-2zM570 291h2v1h-2zM575 291h2v1h-2zM580 291h2v1h-2zM592 291h8v1h-8zM604 291h2v1h-2zM607 291h7v1h-7zM616 291h2v1h-2zM621 291h3v1h-3zM628 291h2v1h-2zM632 291h2v1h-2zM635 291h4v1h-4zM640 291h2v1h-2zM451 292h3v1h-3zM463 292h5v1h-5zM469 292h6v1h-6zM476 292h8v1h-8zM485 292h10v1h-10zM496 292h11v1h-11zM513 292h4v1h-4zM521 292h5v1h-5zM533 292h3v1h-3zM540 292h2v1h-2zM546 292h2v1h-2zM551 292h3v1h-3zM557 292h4v1h-4zM569 292h3v1h-3zM575 292h3v1h-3zM580 292h10v1h-10zM591 292h11v1h-11zM603 292h5v1h-5zM610 292h7v1h-7zM622 292h4v1h-4zM627 292h3v1h-3zM632 292h6v1h-6zM640 292h2v1h-2zM514 293h2v1h-2zM575 293h2v1h-2zM639 293h2v1h-2zM491 298h2v1h-2zM496 298h2v1h-2zM504 298h2v1h-2zM509 298h2v1h-2zM518 298h2v1h-2zM528 298h2v1h-2zM532 298h2v1h-2zM545 298h2v1h-2zM574 298h2v1h-2zM577 298h2v1h-2zM582 298h2v1h-2zM586 298h2v1h-2zM591 298h2v1h-2zM617 298h2v1h-2zM622 298h2v1h-2zM628 298h3v1h-3zM634 298h2v1h-2zM637 298h2v1h-2zM492 299h2v1h-2zM496 299h2v1h-2zM505 299h2v1h-2zM509 299h2v1h-2zM519 299h2v1h-2zM526 299h4v1h-4zM532 299h2v1h-2zM537 299h5v1h-5zM545 299h2v1h-2zM549 299h12v1h-12zM562 299h2v1h-2zM565 299h7v1h-7zM574 299h2v1h-2zM577 299h2v1h-2zM582 299h2v1h-2zM586 299h2v1h-2zM591 299h5v1h-5zM605 299h2v1h-2zM608 299h5v1h-5zM622 299h7v1h-7zM633 299h3v1h-3zM638 299h2v1h-2zM451 300h3v1h-3zM462 300h4v1h-4zM468 300h2v1h-2zM471 300h2v1h-2zM474 300h4v1h-4zM480 300h4v1h-4zM486 300h4v1h-4zM493 300h2v1h-2zM496 300h5v1h-5zM505 300h2v1h-2zM508 300h2v1h-2zM514 300h11v1h-11zM526 300h13v1h-13zM540 300h2v1h-2zM545 300h4v1h-4zM550 300h3v1h-3zM554 300h6v1h-6zM562 300h2v1h-2zM568 300h2v1h-2zM574 300h10v1h-10zM586 300h5v1h-5zM592 300h3v1h-3zM604 300h2v1h-2zM608 300h4v1h-4zM613 300h6v1h-6zM622 300h5v1h-5zM633 300h2v1h-2zM638 300h2v1h-2zM641 300h2v1h-2zM450 301h2v1h-2zM453 301h2v1h-2zM462 301h2v1h-2zM465 301h2v1h-2zM468 301h2v1h-2zM474 301h2v1h-2zM480 301h4v1h-4zM486 301h7v1h-7zM496 301h2v1h-2zM503 301h10v1h-10zM514 301h2v1h-2zM518 301h2v1h-2zM527 301h3v1h-3zM532 301h2v1h-2zM537 301h2v1h-2zM540 301h9v1h-9zM550 301h3v1h-3zM554 301h6v1h-6zM561 301h5v1h-5zM567 301h2v1h-2zM573 301h6v1h-6zM582 301h2v1h-2zM585 301h3v1h-3zM590 301h4v1h-4zM604 301h2v1h-2zM608 301h4v1h-4zM613 301h2v1h-2zM617 301h2v1h-2zM620 301h7v1h-7zM633 301h2v1h-2zM450 302h2v1h-2zM453 302h2v1h-2zM462 302h2v1h-2zM465 302h2v1h-2zM468 302h3v1h-3zM474 302h2v1h-2zM479 302h2v1h-2zM482 302h5v1h-5zM488 302h6v1h-6zM496 302h2v1h-2zM517 302h3v1h-3zM523 302h7v1h-7zM532 302h10v1h-10zM545 302h2v1h-2zM550 302h10v1h-10zM562 302h2v1h-2zM565 302h3v1h-3zM570 302h2v1h-2zM573 302h3v1h-3zM577 302h7v1h-7zM586 302h10v1h-10zM603 302h2v1h-2zM608 302h4v1h-4zM613 302h6v1h-6zM621 302h10v1h-10zM632 302h3v1h-3zM640 302h2v1h-2zM450 303h2v1h-2zM453 303h2v1h-2zM462 303h2v1h-2zM465 303h2v1h-2zM469 303h2v1h-2zM474 303h4v1h-4zM479 303h2v1h-2zM483 303h4v1h-4zM489 303h2v1h-2zM492 303h10v1h-10zM514 303h11v1h-11zM528 303h4v1h-4zM537 303h7v1h-7zM545 303h2v1h-2zM550 303h3v1h-3zM554 303h6v1h-6zM562 303h2v1h-2zM567 303h9v1h-9zM582 303h2v1h-2zM586 303h3v1h-3zM590 303h2v1h-2zM603 303h2v1h-2zM608 303h12v1h-12zM621 303h7v1h-7zM629 303h2v1h-2zM633 303h2v1h-2zM636 303h2v1h-2zM640 303h2v1h-2zM450 304h5v1h-5zM462 304h2v1h-2zM465 304h2v1h-2zM470 304h2v1h-2zM476 304h5v1h-5zM483 304h4v1h-4zM489 304h4v1h-4zM496 304h2v1h-2zM504 304h8v1h-8zM516 304h3v1h-3zM520 304h3v1h-3zM530 304h3v1h-3zM535 304h4v1h-4zM540 304h2v1h-2zM543 304h4v1h-4zM550 304h3v1h-3zM554 304h6v1h-6zM562 304h2v1h-2zM566 304h6v1h-6zM574 304h2v1h-2zM577 304h19v1h-19zM603 304h2v1h-2zM608 304h2v1h-2zM611 304h19v1h-19zM633 304h2v1h-2zM636 304h2v1h-2zM639 304h3v1h-3zM453 305h2v1h-2zM462 305h2v1h-2zM465 305h2v1h-2zM470 305h2v1h-2zM477 305h4v1h-4zM483 305h4v1h-4zM489 305h4v1h-4zM495 305h3v1h-3zM516 305h2v1h-2zM520 305h2v1h-2zM528 305h8v1h-8zM537 305h2v1h-2zM540 305h2v1h-2zM543 305h4v1h-4zM550 305h3v1h-3zM554 305h5v1h-5zM562 305h10v1h-10zM574 305h2v1h-2zM579 305h2v1h-2zM582 305h2v1h-2zM586 305h2v1h-2zM589 305h2v1h-2zM592 305h3v1h-3zM603 305h3v1h-3zM608 305h2v1h-2zM611 305h15v1h-15zM627 305h3v1h-3zM633 305h2v1h-2zM636 305h5v1h-5zM453 306h2v1h-2zM462 306h2v1h-2zM465 306h2v1h-2zM470 306h3v1h-3zM477 306h16v1h-16zM495 306h2v1h-2zM498 306h3v1h-3zM517 306h5v1h-5zM527 306h8v1h-8zM537 306h5v1h-5zM545 306h2v1h-2zM550 306h4v1h-4zM555 306h4v1h-4zM561 306h3v1h-3zM565 306h4v1h-4zM570 306h2v1h-2zM574 306h10v1h-10zM586 306h2v1h-2zM589 306h2v1h-2zM592 306h2v1h-2zM604 306h2v1h-2zM608 306h12v1h-12zM622 306h4v1h-4zM627 306h3v1h-3zM633 306h2v1h-2zM637 306h4v1h-4zM450 307h5v1h-5zM462 307h2v1h-2zM465 307h2v1h-2zM471 307h2v1h-2zM474 307h5v1h-5zM480 307h4v1h-4zM486 307h4v1h-4zM491 307h2v1h-2zM494 307h2v1h-2zM498 307h4v1h-4zM511 307h2v1h-2zM518 307h5v1h-5zM528 307h2v1h-2zM532 307h3v1h-3zM537 307h2v1h-2zM540 307h2v1h-2zM545 307h2v1h-2zM549 307h3v1h-3zM554 307h7v1h-7zM566 307h2v1h-2zM570 307h2v1h-2zM573 307h2v1h-2zM576 307h2v1h-2zM579 307h2v1h-2zM586 307h2v1h-2zM590 307h4v1h-4zM604 307h2v1h-2zM608 307h2v1h-2zM612 307h2v1h-2zM615 307h2v1h-2zM618 307h2v1h-2zM622 307h8v1h-8zM633 307h2v1h-2zM450 308h3v1h-3zM462 308h4v1h-4zM468 308h2v1h-2zM474 308h3v1h-3zM481 308h2v1h-2zM487 308h2v1h-2zM491 308h7v1h-7zM500 308h14v1h-14zM515 308h4v1h-4zM521 308h4v1h-4zM528 308h4v1h-4zM534 308h3v1h-3zM543 308h4v1h-4zM553 308h2v1h-2zM556 308h5v1h-5zM565 308h2v1h-2zM568 308h4v1h-4zM573 308h2v1h-2zM579 308h2v1h-2zM585 308h3v1h-3zM589 308h3v1h-3zM593 308h3v1h-3zM605 308h2v1h-2zM608 308h2v1h-2zM612 308h2v1h-2zM615 308h5v1h-5zM622 308h5v1h-5zM629 308h3v1h-3zM633 308h10v1h-10zM450 313h2v1h-2zM457 313h2v1h-2zM462 313h2v1h-2zM467 313h2v1h-2zM450 314h4v1h-4zM455 314h5v1h-5zM462 314h2v1h-2zM467 314h5v1h-5zM473 314h11v1h-11zM485 314h2v1h-2zM450 315h10v1h-10zM462 315h4v1h-4zM467 315h2v1h-2zM470 315h2v1h-2zM477 315h2v1h-2zM486 315h2v1h-2zM450 316h2v1h-2zM453 316h3v1h-3zM457 316h3v1h-3zM462 316h2v1h-2zM467 316h5v1h-5zM477 316h2v1h-2zM486 316h2v1h-2zM450 317h2v1h-2zM453 317h2v1h-2zM456 317h3v1h-3zM462 317h2v1h-2zM465 317h4v1h-4zM474 317h2v1h-2zM477 317h2v1h-2zM487 317h2v1h-2zM450 318h9v1h-9zM462 318h3v1h-3zM467 318h4v1h-4zM474 318h2v1h-2zM477 318h6v1h-6zM487 318h2v1h-2zM450 319h9v1h-9zM461 319h3v1h-3zM467 319h4v1h-4zM474 319h2v1h-2zM477 319h2v1h-2zM487 319h2v1h-2zM450 320h3v1h-3zM456 320h3v1h-3zM462 320h2v1h-2zM468 320h2v1h-2zM474 320h2v1h-2zM477 320h2v1h-2zM486 320h3v1h-3zM450 321h3v1h-3zM456 321h3v1h-3zM462 321h2v1h-2zM467 321h3v1h-3zM474 321h2v1h-2zM477 321h2v1h-2zM486 321h2v1h-2zM496 321h4v1h-4zM450 322h9v1h-9zM462 322h2v1h-2zM466 322h2v1h-2zM469 322h4v1h-4zM474 322h2v1h-2zM477 322h2v1h-2zM486 322h2v1h-2zM498 322h2v1h-2zM449 323h11v1h-11zM461 323h3v1h-3zM465 323h2v1h-2zM470 323h14v1h-14zM485 323h2v1h-2zM496 323h4v1h-4zM497 324h2v1h-2z"/>
<rect x="485" y="394" width="165" height="2" fill="#ffffff"/>
<rect x="486" y="408" width="161" height="1" fill="#ffffff"/>
<rect x="486" y="420" width="161" height="1" fill="#ffffff"/>
<rect x="486" y="432" width="161" height="1" fill="#ffffff"/>
<rect x="486" y="444" width="161" height="1" fill="#ffffff"/>
<rect x="486" y="456" width="161" height="1" fill="#ffffff"/>
<rect x="486" y="468" width="161" height="1" fill="#ffffff"/>
<rect x="486" y="480" width="161" height="1" fill="#ffffff"/>
<rect x="485" y="491" width="165" height="3" fill="#ffffff"/>
<rect x="485" y="394" width="2" height="111" fill="#ffffff"/>
<rect x="626" y="394" width="2" height="111" fill="#ffffff"/>
<use href="#qt" transform="translate(488.2,395.3) scale(0.45,0.42)"/>
<use href="#qt" transform="translate(496.9,395.3) scale(0.45,0.42)"/>
<use href="#qt" transform="translate(505.6,395.3) scale(0.45,0.42)"/>
<use href="#qt" transform="translate(514.3,395.3) scale(0.45,0.42)"/>
<use href="#qt" transform="translate(523.0,395.3) scale(0.45,0.42)"/>
<use href="#qt" transform="translate(531.7,395.3) scale(0.45,0.42)"/>
<use href="#qt" transform="translate(540.4,395.3) scale(0.45,0.42)"/>
<use href="#qt" transform="translate(549.1,395.3) scale(0.45,0.42)"/>
<use href="#qt" transform="translate(557.8,395.3) scale(0.45,0.42)"/>
<use href="#qt" transform="translate(566.5,395.3) scale(0.45,0.42)"/>
<use href="#qt" transform="translate(575.2,395.3) scale(0.45,0.42)"/>
<use href="#qt" transform="translate(583.9,395.3) scale(0.45,0.42)"/>
<use href="#qt" transform="translate(592.6,395.3) scale(0.45,0.42)"/>
<use href="#qt" transform="translate(601.3,395.3) scale(0.45,0.42)"/>
<use href="#qt" transform="translate(610.0,395.3) scale(0.45,0.42)"/>
<use href="#qt" transform="translate(618.7,395.3) scale(0.45,0.42)"/>
<use href="#qt" transform="translate(488.2,408.3) scale(0.45,0.42)"/>
<use href="#qt" transform="translate(496.9,408.3) scale(0.45,0.42)"/>
<use href="#qt" transform="translate(505.6,408.3) scale(0.45,0.42)"/>
<use href="#qt" transform="translate(514.3,408.3) scale(0.45,0.42)"/>
<use href="#qt" transform="translate(523.0,408.3) scale(0.45,0.42)"/>
<use href="#qt" transform="translate(531.7,408.3) scale(0.45,0.42)"/>
<use href="#qt" transform="translate(540.4,408.3) scale(0.45,0.42)"/>
<use href="#qt" transform="translate(549.1,408.3) scale(0.45,0.42)"/>
<use href="#qt" transform="translate(557.8,408.3) scale(0.45,0.42)"/>
<use href="#qt" transform="translate(566.5,408.3) scale(0.45,0.42)"/>
<use href="#qt" transform="translate(575.2,408.3) scale(0.45,0.42)"/>
<use href="#qt" transform="translate(583.9,408.3) scale(0.45,0.42)"/>
<use href="#qt" transform="translate(592.6,408.3) scale(0.45,0.42)"/>
<use href="#qt" transform="translate(601.3,408.3) scale(0.45,0.42)"/>
<use href="#qt" transform="translate(610.0,408.3) scale(0.45,0.42)"/>
<use href="#qt" transform="translate(618.7,408.3) scale(0.45,0.42)"/>
<use href="#qt" transform="translate(488.2,420.3) scale(0.45,0.42)"/>
<use href="#qt" transform="translate(496.9,420.3) scale(0.45,0.42)"/>
<use href="#qt" transform="translate(505.6,420.3) scale(0.45,0.42)"/>
<use href="#qt" transform="translate(514.3,420.3) scale(0.45,0.42)"/>
<use href="#qt" transform="translate(523.0,420.3) scale(0.45,0.42)"/>
<use href="#qt" transform="translate(531.7,420.3) scale(0.45,0.42)"/>
<use href="#qt" transform="translate(540.4,420.3) scale(0.45,0.42)"/>
<use href="#qt" transform="translate(549.1,420.3) scale(0.45,0.42)"/>
<use href="#qt" transform="translate(557.8,420.3) scale(0.45,0.42)"/>
<use href="#qt" transform="translate(566.5,420.3) scale(0.45,0.42)"/>
<use href="#qt" transform="translate(575.2,420.3) scale(0.45,0.42)"/>
<use href="#qt" transform="translate(583.9,420.3) scale(0.45,0.42)"/>
<use href="#qt" transform="translate(592.6,420.3) scale(0.45,0.42)"/>
<use href="#qt" transform="translate(601.3,420.3) scale(0.45,0.42)"/>
<use href="#qt" transform="translate(610.0,420.3) scale(0.45,0.42)"/>
<use href="#qt" transform="translate(618.7,420.3) scale(0.45,0.42)"/>
<use href="#qt" transform="translate(488.2,432.3) scale(0.45,0.42)"/>
<use href="#qt" transform="translate(496.9,432.3) scale(0.45,0.42)"/>
<use href="#qt" transform="translate(505.6,432.3) scale(0.45,0.42)"/>
<use href="#qt" transform="translate(514.3,432.3) scale(0.45,0.42)"/>
<use href="#qt" transform="translate(523.0,432.3) scale(0.45,0.42)"/>
<use href="#qt" transform="translate(531.7,432.3) scale(0.45,0.42)"/>
<use href="#qt" transform="translate(540.4,432.3) scale(0.45,0.42)"/>
<use href="#qt" transform="translate(549.1,432.3) scale(0.45,0.42)"/>
<use href="#qt" transform="translate(557.8,432.3) scale(0.45,0.42)"/>
<use href="#qt" transform="translate(566.5,432.3) scale(0.45,0.42)"/>
<use href="#qt" transform="translate(575.2,432.3) scale(0.45,0.42)"/>
<use href="#qt" transform="translate(583.9,432.3) scale(0.45,0.42)"/>
<use href="#qt" transform="translate(592.6,432.3) scale(0.45,0.42)"/>
<use href="#qt" transform="translate(601.3,432.3) scale(0.45,0.42)"/>
<use href="#qt" transform="translate(610.0,432.3) scale(0.45,0.42)"/>
<use href="#qt" transform="translate(618.7,432.3) scale(0.45,0.42)"/>
<use href="#qt" transform="translate(488.2,444.3) scale(0.45,0.42)"/>
<use href="#qt" transform="translate(496.9,444.3) scale(0.45,0.42)"/>
<use href="#qt" transform="translate(505.6,444.3) scale(0.45,0.42)"/>
<use href="#qt" transform="translate(514.3,444.3) scale(0.45,0.42)"/>
<use href="#qt" transform="translate(523.0,444.3) scale(0.45,0.42)"/>
<use href="#qt" transform="translate(531.7,444.3) scale(0.45,0.42)"/>
<use href="#qt" transform="translate(540.4,444.3) scale(0.45,0.42)"/>
<use href="#qt" transform="translate(549.1,444.3) scale(0.45,0.42)"/>
<use href="#qt" transform="translate(557.8,444.3) scale(0.45,0.42)"/>
<use href="#qt" transform="translate(566.5,444.3) scale(0.45,0.42)"/>
<use href="#qt" transform="translate(575.2,444.3) scale(0.45,0.42)"/>
<use href="#qt" transform="translate(583.9,444.3) scale(0.45,0.42)"/>
<use href="#qt" transform="translate(592.6,444.3) scale(0.45,0.42)"/>
<use href="#qt" transform="translate(601.3,444.3) scale(0.45,0.42)"/>
<use href="#qt" transform="translate(610.0,444.3) scale(0.45,0.42)"/>
<use href="#qt" transform="translate(618.7,444.3) scale(0.45,0.42)"/>
<use href="#qt" transform="translate(488.2,456.3) scale(0.45,0.42)"/>
<use href="#qt" transform="translate(496.9,456.3) scale(0.45,0.42)"/>
<use href="#qt" transform="translate(505.6,456.3) scale(0.45,0.42)"/>
<use href="#qt" transform="translate(514.3,456.3) scale(0.45,0.42)"/>
<use href="#qt" transform="translate(523.0,456.3) scale(0.45,0.42)"/>
<use href="#qt" transform="translate(531.7,456.3) scale(0.45,0.42)"/>
<use href="#qt" transform="translate(540.4,456.3) scale(0.45,0.42)"/>
<use href="#qt" transform="translate(549.1,456.3) scale(0.45,0.42)"/>
<use href="#qt" transform="translate(557.8,456.3) scale(0.45,0.42)"/>
<use href="#qt" transform="translate(566.5,456.3) scale(0.45,0.42)"/>
<use href="#qt" transform="translate(575.2,456.3) scale(0.45,0.42)"/>
<use href="#qt" transform="translate(583.9,456.3) scale(0.45,0.42)"/>
<use href="#qt" transform="translate(592.6,456.3) scale(0.45,0.42)"/>
<use href="#qt" transform="translate(601.3,456.3) scale(0.45,0.42)"/>
<use href="#qt" transform="translate(610.0,456.3) scale(0.45,0.42)"/>
<use href="#qt" transform="translate(618.7,456.3) scale(0.45,0.42)"/>
<use href="#qt" transform="translate(488.2,468.3) scale(0.45,0.42)"/>
<use href="#qt" transform="translate(496.9,468.3) scale(0.45,0.42)"/>
<use href="#qt" transform="translate(505.6,468.3) scale(0.45,0.42)"/>
<use href="#qt" transform="translate(514.3,468.3) scale(0.45,0.42)"/>
<use href="#qt" transform="translate(523.0,468.3) scale(0.45,0.42)"/>
<use href="#qt" transform="translate(531.7,468.3) scale(0.45,0.42)"/>
<use href="#qt" transform="translate(540.4,468.3) scale(0.45,0.42)"/>
<use href="#qt" transform="translate(549.1,468.3) scale(0.45,0.42)"/>
<use href="#qt" transform="translate(557.8,468.3) scale(0.45,0.42)"/>
<use href="#qt" transform="translate(566.5,468.3) scale(0.45,0.42)"/>
<use href="#qt" transform="translate(575.2,468.3) scale(0.45,0.42)"/>
<use href="#qt" transform="translate(583.9,468.3) scale(0.45,0.42)"/>
<use href="#qt" transform="translate(592.6,468.3) scale(0.45,0.42)"/>
<use href="#qt" transform="translate(601.3,468.3) scale(0.45,0.42)"/>
<use href="#qt" transform="translate(610.0,468.3) scale(0.45,0.42)"/>
<use href="#qt" transform="translate(618.7,468.3) scale(0.45,0.42)"/>
<use href="#qt" transform="translate(488.2,480.3) scale(0.45,0.42)"/>
<use href="#qt" transform="translate(496.9,480.3) scale(0.45,0.42)"/>
<use href="#qt" transform="translate(505.6,480.3) scale(0.45,0.42)"/>
<use href="#qt" transform="translate(514.3,480.3) scale(0.45,0.42)"/>
<use href="#qt" transform="translate(523.0,480.3) scale(0.45,0.42)"/>
<use href="#qt" transform="translate(531.7,480.3) scale(0.45,0.42)"/>
<use href="#qt" transform="translate(540.4,480.3) scale(0.45,0.42)"/>
<use href="#qt" transform="translate(549.1,480.3) scale(0.45,0.42)"/>
<use href="#qt" transform="translate(557.8,480.3) scale(0.45,0.42)"/>
<use href="#qt" transform="translate(566.5,480.3) scale(0.45,0.42)"/>
<use href="#qt" transform="translate(575.2,480.3) scale(0.45,0.42)"/>
<use href="#qt" transform="translate(583.9,480.3) scale(0.45,0.42)"/>
<use href="#qt" transform="translate(522,492.3) scale(0.45,0.42)"/>
<use href="#qt" transform="translate(571,492.3) scale(0.45,0.42)"/>
<use href="#qt" transform="translate(629.5,492.3) scale(0.45,0.42)"/>
<use href="#qt" transform="translate(638,492.3) scale(0.45,0.42)"/>
<use href="#qt" transform="translate(629.5,395.3) scale(0.45,0.42)"/>
<rect x="637" y="398" width="1" height="8" fill="#ffffff"/>
<rect x="637" y="405" width="5" height="1" fill="#ffffff"/>
<g class="st"><path d="M641.67,401.00 L645.00,401.00 L643.13,402.90 L643.95,402.90 L644.71,403.25 L645.00,404.00 L645.00,404.65 L644.53,405.30 L643.72,405.50 L642.78,405.50 L641.97,405.30 L641.50,404.80" fill="none" stroke="#fff" stroke-width="1"/></g>
<use href="#qt" transform="translate(629.5,408.3) scale(0.45,0.42)"/>
<rect x="637" y="411" width="1" height="8" fill="#ffffff"/>
<rect x="637" y="418" width="5" height="1" fill="#ffffff"/>
<g class="st"><path d="M641.50,415.00 L641.97,414.30 L642.78,414.00 L643.72,414.00 L644.53,414.30 L645.00,415.00 L645.00,415.60 L644.53,416.30 L641.50,418.50 L645.00,418.50" fill="none" stroke="#fff" stroke-width="1"/></g>
<use href="#qt" transform="translate(629.5,420.3) scale(0.45,0.42)"/>
<rect x="637" y="423" width="1" height="8" fill="#ffffff"/>
<rect x="637" y="430" width="5" height="1" fill="#ffffff"/>
<g class="st"><path d="M642.38,426.90 L643.54,426.00 L643.54,430.50" fill="none" stroke="#fff" stroke-width="1"/></g>
<use href="#qt" transform="translate(629.5,432.3) scale(0.45,0.42)"/>
<use href="#qt" transform="translate(638,432.3) scale(0.45,0.42)"/>
<rect x="636" y="446" width="1" height="9" fill="#ffffff"/>
<rect x="634" y="447" width="2" height="1" fill="#ffffff"/>
<rect x="636" y="458" width="1" height="9" fill="#ffffff"/>
<rect x="634" y="459" width="2" height="1" fill="#ffffff"/>
<rect x="636" y="470" width="1" height="9" fill="#ffffff"/>
<rect x="634" y="471" width="2" height="1" fill="#ffffff"/>
<rect x="636" y="482" width="1" height="9" fill="#ffffff"/>
<rect x="634" y="483" width="2" height="1" fill="#ffffff"/>
</svg></body></html>
